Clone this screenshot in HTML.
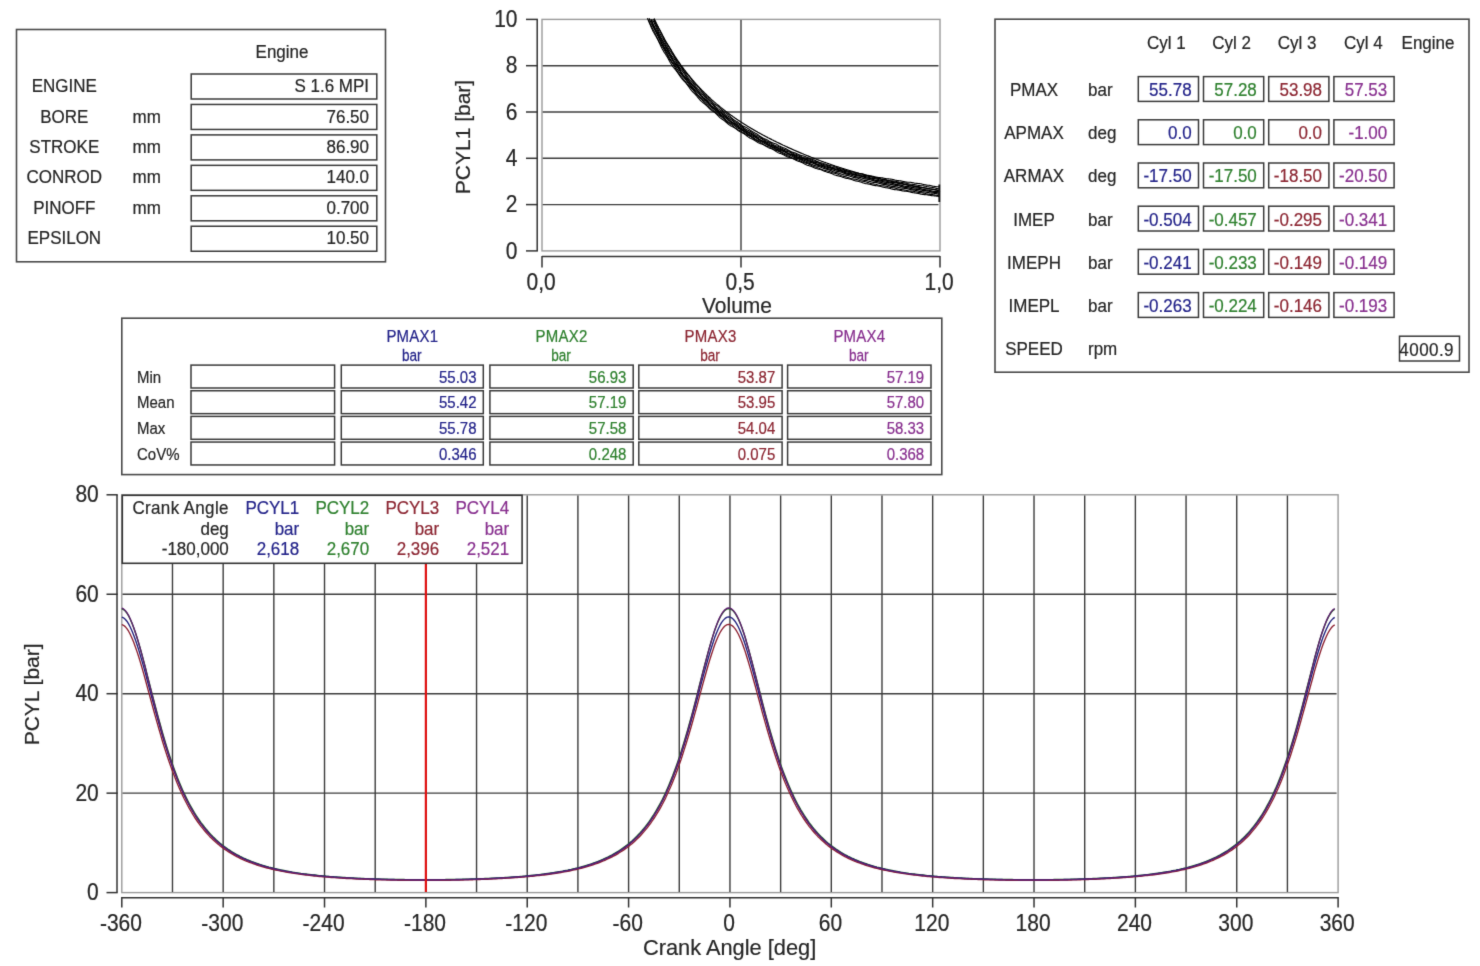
<!DOCTYPE html>
<html><head><meta charset="utf-8"><title>Engine</title>
<style>html,body{margin:0;padding:0;background:#fff;width:1480px;height:966px;overflow:hidden}
svg{display:block} text{font-family:"Liberation Sans", sans-serif;stroke:currentColor;stroke-width:0.2px}</style></head>
<body><svg width="1480" height="966" viewBox="0 0 1480 966" font-family='"Liberation Sans", sans-serif'><defs><filter id="bl" x="0" y="0" width="1480" height="966" filterUnits="userSpaceOnUse" color-interpolation-filters="sRGB"><feConvolveMatrix order="3" kernelMatrix="0.0113 0.0838 0.0113 0.0838 0.6193 0.0838 0.0113 0.0838 0.0113" divisor="1" edgeMode="duplicate"/></filter></defs><g filter="url(#bl)"><rect width="1480" height="966" fill="#fff"/><rect x="16.50" y="29.50" width="369.00" height="232.30" fill="none" stroke="#4a4a4a" stroke-width="1.6"/>
<text transform="translate(282.0,57.5) scale(1,1.09)" font-size="17" text-anchor="middle" fill="#262626" color="#262626">Engine</text>
<rect x="191.20" y="74.00" width="185.60" height="25.00" fill="none" stroke="#3a3a3a" stroke-width="1.5"/>
<text transform="translate(64.3,92.0) scale(1,1.09)" font-size="17" text-anchor="middle" fill="#262626" color="#262626">ENGINE</text>
<text transform="translate(369.0,92.0) scale(1,1.09)" font-size="17" text-anchor="end" fill="#262626" color="#262626">S 1.6 MPI</text>
<rect x="191.20" y="104.45" width="185.60" height="25.00" fill="none" stroke="#3a3a3a" stroke-width="1.5"/>
<text transform="translate(64.3,122.5) scale(1,1.09)" font-size="17" text-anchor="middle" fill="#262626" color="#262626">BORE</text>
<text transform="translate(132.5,122.5) scale(1,1.09)" font-size="17" text-anchor="start" fill="#262626" color="#262626">mm</text>
<text transform="translate(369.0,122.5) scale(1,1.09)" font-size="17" text-anchor="end" fill="#262626" color="#262626">76.50</text>
<rect x="191.20" y="134.90" width="185.60" height="25.00" fill="none" stroke="#3a3a3a" stroke-width="1.5"/>
<text transform="translate(64.3,152.9) scale(1,1.09)" font-size="17" text-anchor="middle" fill="#262626" color="#262626">STROKE</text>
<text transform="translate(132.5,152.9) scale(1,1.09)" font-size="17" text-anchor="start" fill="#262626" color="#262626">mm</text>
<text transform="translate(369.0,152.9) scale(1,1.09)" font-size="17" text-anchor="end" fill="#262626" color="#262626">86.90</text>
<rect x="191.20" y="165.35" width="185.60" height="25.00" fill="none" stroke="#3a3a3a" stroke-width="1.5"/>
<text transform="translate(64.3,183.3) scale(1,1.09)" font-size="17" text-anchor="middle" fill="#262626" color="#262626">CONROD</text>
<text transform="translate(132.5,183.3) scale(1,1.09)" font-size="17" text-anchor="start" fill="#262626" color="#262626">mm</text>
<text transform="translate(369.0,183.3) scale(1,1.09)" font-size="17" text-anchor="end" fill="#262626" color="#262626">140.0</text>
<rect x="191.20" y="195.80" width="185.60" height="25.00" fill="none" stroke="#3a3a3a" stroke-width="1.5"/>
<text transform="translate(64.3,213.8) scale(1,1.09)" font-size="17" text-anchor="middle" fill="#262626" color="#262626">PINOFF</text>
<text transform="translate(132.5,213.8) scale(1,1.09)" font-size="17" text-anchor="start" fill="#262626" color="#262626">mm</text>
<text transform="translate(369.0,213.8) scale(1,1.09)" font-size="17" text-anchor="end" fill="#262626" color="#262626">0.700</text>
<rect x="191.20" y="226.25" width="185.60" height="25.00" fill="none" stroke="#3a3a3a" stroke-width="1.5"/>
<text transform="translate(64.3,244.2) scale(1,1.09)" font-size="17" text-anchor="middle" fill="#262626" color="#262626">EPSILON</text>
<text transform="translate(369.0,244.2) scale(1,1.09)" font-size="17" text-anchor="end" fill="#262626" color="#262626">10.50</text>
<rect x="542.00" y="19.40" width="398.00" height="231.50" fill="none" stroke="#9a9a9a" stroke-width="1.4"/>
<line x1="542.70" y1="204.60" x2="938.50" y2="204.60" stroke="#3c3c3c" stroke-width="1.4"/>
<line x1="542.70" y1="158.30" x2="938.50" y2="158.30" stroke="#3c3c3c" stroke-width="1.4"/>
<line x1="542.70" y1="112.00" x2="938.50" y2="112.00" stroke="#3c3c3c" stroke-width="1.4"/>
<line x1="542.70" y1="65.70" x2="938.50" y2="65.70" stroke="#3c3c3c" stroke-width="1.4"/>
<line x1="741.00" y1="20.10" x2="741.00" y2="250.20" stroke="#3c3c3c" stroke-width="1.4"/>
<line x1="537.20" y1="19.40" x2="537.20" y2="250.90" stroke="#333" stroke-width="1.5"/>
<line x1="526.00" y1="250.90" x2="537.90" y2="250.90" stroke="#333" stroke-width="1.5"/>
<text transform="translate(517.5,258.5) scale(1,1.1)" font-size="21" text-anchor="end" fill="#262626" color="#262626">0</text>
<line x1="526.00" y1="204.60" x2="537.90" y2="204.60" stroke="#333" stroke-width="1.5"/>
<text transform="translate(517.5,212.2) scale(1,1.1)" font-size="21" text-anchor="end" fill="#262626" color="#262626">2</text>
<line x1="526.00" y1="158.30" x2="537.90" y2="158.30" stroke="#333" stroke-width="1.5"/>
<text transform="translate(517.5,165.9) scale(1,1.1)" font-size="21" text-anchor="end" fill="#262626" color="#262626">4</text>
<line x1="526.00" y1="112.00" x2="537.90" y2="112.00" stroke="#333" stroke-width="1.5"/>
<text transform="translate(517.5,119.6) scale(1,1.1)" font-size="21" text-anchor="end" fill="#262626" color="#262626">6</text>
<line x1="526.00" y1="65.70" x2="537.90" y2="65.70" stroke="#333" stroke-width="1.5"/>
<text transform="translate(517.5,73.3) scale(1,1.1)" font-size="21" text-anchor="end" fill="#262626" color="#262626">8</text>
<line x1="526.00" y1="19.40" x2="537.90" y2="19.40" stroke="#333" stroke-width="1.5"/>
<text transform="translate(517.5,27.0) scale(1,1.1)" font-size="21" text-anchor="end" fill="#262626" color="#262626">10</text>
<line x1="542.00" y1="256.60" x2="940.00" y2="256.60" stroke="#333" stroke-width="1.5"/>
<line x1="542.00" y1="255.90" x2="542.00" y2="267.40" stroke="#333" stroke-width="1.5"/>
<text transform="translate(541.2,290.0) scale(1,1.1)" font-size="21" text-anchor="middle" fill="#262626" color="#262626">0,0</text>
<line x1="741.00" y1="255.90" x2="741.00" y2="267.40" stroke="#333" stroke-width="1.5"/>
<text transform="translate(740.2,290.0) scale(1,1.1)" font-size="21" text-anchor="middle" fill="#262626" color="#262626">0,5</text>
<line x1="940.00" y1="255.90" x2="940.00" y2="267.40" stroke="#333" stroke-width="1.5"/>
<text transform="translate(939.2,290.0) scale(1,1.1)" font-size="21" text-anchor="middle" fill="#262626" color="#262626">1,0</text>
<text transform="translate(737.0,312.8) scale(1,1.04)" font-size="21" text-anchor="middle" fill="#262626" color="#262626">Volume</text>
<text x="0.0" y="0.0" font-size="21" text-anchor="middle" fill="#262626" color="#262626" transform="translate(469.9,137) rotate(-90)">PCYL1 [bar]</text>
<polyline points="647.3,18.3 647.9,19.5 648.5,20.8 649.0,22.1 649.6,23.5 650.2,24.8 650.8,26.2 651.3,27.5 651.9,28.8 652.5,30.0 653.0,31.2 653.6,32.3 654.2,33.3 654.7,34.2 655.3,35.2 655.9,36.1 656.4,37.1 657.0,38.1 657.6,39.2 658.2,40.3 658.7,41.5 659.3,42.7 659.9,43.9 660.4,45.2 661.0,46.4 661.6,47.6 662.1,48.7 662.7,49.7 663.3,50.7 663.8,51.7 664.4,52.6 665.0,53.4 665.6,54.3 666.1,55.2 666.7,56.1 667.3,57.0 667.8,58.0 668.4,59.1 669.0,60.1 669.5,61.2 670.1,62.3 670.7,63.3 671.3,64.3 671.8,65.2 672.4,66.0 673.0,66.8 673.5,67.5 674.1,68.2 674.7,68.9 675.2,69.5 675.8,70.2 676.4,70.9 676.9,71.7 677.5,72.4 678.1,73.3 678.7,74.1 679.2,75.0 679.8,75.8 680.4,76.7 680.9,77.5 681.5,78.2 682.1,78.9 682.6,79.6 683.2,80.2 683.8,80.8 684.3,81.3 684.9,81.9 685.5,82.5 686.1,83.2 686.6,83.9 687.2,84.6 687.8,85.4 688.3,86.2 688.9,87.0 689.5,87.8 690.0,88.6 690.6,89.4 691.2,90.1 691.7,90.8 692.3,91.4 692.9,92.0 693.5,92.6 694.0,93.1 694.6,93.7 695.2,94.3 695.7,94.9 696.3,95.5 696.9,96.2 697.4,96.9 698.0,97.6 698.6,98.3 699.2,99.0 699.7,99.7 700.3,100.3 700.9,100.9 701.4,101.4 702.0,101.9 702.6,102.4 703.1,102.8 703.7,103.2 704.3,103.6 704.8,104.0 705.4,104.5 706.0,105.0 706.6,105.5 707.1,106.1 707.7,106.7 708.3,107.3 708.8,107.9 709.4,108.5 710.0,109.0 710.5,109.5 711.1,110.0 711.7,110.4 712.2,110.8 712.8,111.2 713.4,111.6 714.0,112.0 714.5,112.4 715.1,112.8 715.7,113.3 716.2,113.9 716.8,114.4 717.4,115.0 717.9,115.6 718.5,116.2 719.1,116.8 719.6,117.3 720.2,117.9 720.8,118.3 721.4,118.7 721.9,119.1 722.5,119.5 723.1,119.9 723.6,120.3 724.2,120.6 724.8,121.1 725.3,121.5 725.9,122.0 726.5,122.5 727.1,123.0 727.6,123.5 728.2,124.0 728.8,124.5 729.3,124.9 729.9,125.3 730.5,125.7 731.0,126.0 731.6,126.3 732.2,126.6 732.7,126.9 733.3,127.1 733.9,127.4 734.5,127.8 735.0,128.1 735.6,128.5 736.2,128.9 736.7,129.4 737.3,129.8 737.9,130.3 738.4,130.7 739.0,131.1 739.6,131.4 740.1,131.8 740.7,132.1 741.3,132.3 741.9,132.6 742.4,132.9 743.0,133.2 743.6,133.5 744.1,133.8 744.7,134.2 745.3,134.6 745.8,135.1 746.4,135.5 747.0,136.0 747.5,136.4 748.1,136.9 748.7,137.3 749.3,137.6 749.8,138.0 750.4,138.3 751.0,138.5 751.5,138.8 752.1,139.0 752.7,139.3 753.2,139.6 753.8,139.9 754.4,140.3 754.9,140.6 755.5,141.0 756.1,141.4 756.7,141.8 757.2,142.1 757.8,142.5 758.4,142.8 758.9,143.1 759.5,143.3 760.1,143.5 760.6,143.7 761.2,143.9 761.8,144.1 762.4,144.3 762.9,144.5 763.5,144.8 764.1,145.1 764.6,145.4 765.2,145.7 765.8,146.1 766.3,146.4 766.9,146.8 767.5,147.1 768.0,147.4 768.6,147.7 769.2,147.9 769.8,148.2 770.3,148.4 770.9,148.6 771.5,148.8 772.0,149.0 772.6,149.3 773.2,149.6 773.7,149.9 774.3,150.3 774.9,150.6 775.4,151.0 776.0,151.4 776.6,151.7 777.2,152.1 777.7,152.4 778.3,152.7 778.9,152.9 779.4,153.2 780.0,153.4 780.6,153.6 781.1,153.8 781.7,154.0 782.3,154.2 782.8,154.5 783.4,154.8 784.0,155.1 784.6,155.4 785.1,155.7 785.7,156.0 786.3,156.3 786.8,156.6 787.4,156.9 788.0,157.1 788.5,157.3 789.1,157.4 789.7,157.6 790.3,157.8 790.8,157.9 791.4,158.1 792.0,158.3 792.5,158.5 793.1,158.8 793.7,159.0 794.2,159.3 794.8,159.6 795.4,159.9 795.9,160.2 796.5,160.5 797.1,160.8 797.7,161.0 798.2,161.2 798.8,161.4 799.4,161.6 799.9,161.8 800.5,161.9 801.1,162.2 801.6,162.4 802.2,162.6 802.8,162.9 803.3,163.2 803.9,163.5 804.5,163.9 805.1,164.2 805.6,164.5 806.2,164.7 806.8,165.0 807.3,165.2 807.9,165.4 808.5,165.6 809.0,165.8 809.6,165.9 810.2,166.1 810.7,166.3 811.3,166.5 811.9,166.7 812.5,166.9 813.0,167.2 813.6,167.4 814.2,167.7 814.7,168.0 815.3,168.2 815.9,168.4 816.4,168.6 817.0,168.8 817.6,168.9 818.2,169.1 818.7,169.2 819.3,169.3 819.9,169.4 820.4,169.6 821.0,169.8 821.6,169.9 822.1,170.2 822.7,170.4 823.3,170.7 823.8,170.9 824.4,171.2 825.0,171.4 825.6,171.6 826.1,171.8 826.7,172.0 827.3,172.2 827.8,172.4 828.4,172.5 829.0,172.6 829.5,172.8 830.1,173.0 830.7,173.2 831.2,173.4 831.8,173.6 832.4,173.9 833.0,174.1 833.5,174.4 834.1,174.7 834.7,174.9 835.2,175.1 835.8,175.3 836.4,175.5 836.9,175.6 837.5,175.8 838.1,175.9 838.6,176.0 839.2,176.1 839.8,176.3 840.4,176.4 840.9,176.6 841.5,176.8 842.1,177.0 842.6,177.2 843.2,177.4 843.8,177.6 844.3,177.8 844.9,178.0 845.5,178.1 846.1,178.3 846.6,178.4 847.2,178.5 847.8,178.5 848.3,178.6 848.9,178.7 849.5,178.9 850.0,179.0 850.6,179.2 851.2,179.3 851.7,179.5 852.3,179.8 852.9,180.0 853.5,180.2 854.0,180.4 854.6,180.6 855.2,180.7 855.7,180.9 856.3,181.0 856.9,181.1 857.4,181.2 858.0,181.3 858.6,181.4 859.1,181.6 859.7,181.7 860.3,181.9 860.9,182.1 861.4,182.3 862.0,182.5 862.6,182.7 863.1,182.9 863.7,183.1 864.3,183.3 864.8,183.4 865.4,183.6 866.0,183.7 866.5,183.7 867.1,183.8 867.7,183.9 868.3,184.0 868.8,184.1 869.4,184.2 870.0,184.3 870.5,184.5 871.1,184.6 871.7,184.8 872.2,185.0 872.8,185.1 873.4,185.2 874.0,185.4 874.5,185.5 875.1,185.6 875.7,185.6 876.2,185.7 876.8,185.7 877.4,185.8 877.9,185.9 878.5,186.0 879.1,186.1 879.6,186.2 880.2,186.3 880.8,186.5 881.4,186.7 881.9,186.8 882.5,187.0 883.1,187.2 883.6,187.3 884.2,187.4 884.8,187.5 885.3,187.6 885.9,187.7 886.5,187.8 887.0,187.9 887.6,187.9 888.2,188.1 888.8,188.2 889.3,188.3 889.9,188.5 890.5,188.6 891.0,188.8 891.6,189.0 892.2,189.1 892.7,189.3 893.3,189.4 893.9,189.5 894.4,189.6 895.0,189.6 895.6,189.7 896.2,189.7 896.7,189.8 897.3,189.9 897.9,189.9 898.4,190.0 899.0,190.1 899.6,190.2 900.1,190.4 900.7,190.5 901.3,190.6 901.9,190.8 902.4,190.9 903.0,191.0 903.6,191.0 904.1,191.1 904.7,191.1 905.3,191.2 905.8,191.2 906.4,191.3 907.0,191.4 907.5,191.4 908.1,191.5 908.7,191.7 909.3,191.8 909.8,191.9 910.4,192.1 911.0,192.2 911.5,192.4 912.1,192.5 912.7,192.6 913.2,192.7 913.8,192.8 914.4,192.9 914.9,192.9 915.5,193.0 916.1,193.1 916.7,193.2 917.2,193.3 917.8,193.4 918.4,193.5 918.9,193.6 919.5,193.8 920.1,193.9 920.6,194.1 921.2,194.2 921.8,194.3 922.3,194.4 922.9,194.5 923.5,194.5 924.1,194.6 924.6,194.6 925.2,194.6 925.8,194.7 926.3,194.7 926.9,194.8 927.5,194.9 928.0,195.0 928.6,195.1 929.2,195.2 929.8,195.3 930.3,195.4 930.9,195.5 931.5,195.6 932.0,195.7 932.6,195.7 933.2,195.8 933.7,195.8 934.3,195.9 934.9,195.9 935.4,196.0 936.0,196.0 936.6,196.1 937.2,196.2 937.7,196.3 938.3,196.4 938.9,196.6 939.4,196.7 940.0,196.8" fill="none" stroke="#000" stroke-width="1.1" stroke-linejoin="round" />
<polyline points="648.5,19.7 649.0,21.1 649.6,22.5 650.2,23.8 650.8,25.0 651.3,26.1 651.9,27.2 652.5,28.2 653.0,29.3 653.6,30.4 654.2,31.5 654.7,32.6 655.3,33.8 655.9,35.0 656.4,36.3 657.0,37.5 657.6,38.7 658.2,39.9 658.7,41.0 659.3,42.1 659.9,43.0 660.4,43.9 661.0,44.8 661.6,45.6 662.1,46.5 662.7,47.3 663.3,48.2 663.8,49.1 664.4,50.1 665.0,51.1 665.6,52.1 666.1,53.2 666.7,54.3 667.3,55.4 667.8,56.5 668.4,57.5 669.0,58.5 669.5,59.4 670.1,60.2 670.7,61.0 671.3,61.8 671.8,62.6 672.4,63.4 673.0,64.2 673.5,65.1 674.1,66.0 674.7,66.9 675.2,67.9 675.8,68.9 676.4,69.9 676.9,70.9 677.5,71.8 678.1,72.7 678.7,73.5 679.2,74.2 679.8,74.9 680.4,75.6 680.9,76.2 681.5,76.8 682.1,77.5 682.6,78.1 683.2,78.8 683.8,79.5 684.3,80.3 684.9,81.0 685.5,81.8 686.1,82.6 686.6,83.4 687.2,84.2 687.8,84.9 688.3,85.5 688.9,86.1 689.5,86.7 690.0,87.2 690.6,87.7 691.2,88.2 691.7,88.7 692.3,89.3 692.9,89.9 693.5,90.5 694.0,91.2 694.6,91.9 695.2,92.7 695.7,93.4 696.3,94.2 696.9,94.9 697.4,95.6 698.0,96.2 698.6,96.8 699.2,97.3 699.7,97.9 700.3,98.4 700.9,98.9 701.4,99.4 702.0,99.9 702.6,100.5 703.1,101.1 703.7,101.8 704.3,102.5 704.8,103.2 705.4,103.9 706.0,104.5 706.6,105.1 707.1,105.7 707.7,106.3 708.3,106.7 708.8,107.2 709.4,107.6 710.0,108.0 710.5,108.4 711.1,108.8 711.7,109.2 712.2,109.7 712.8,110.2 713.4,110.7 714.0,111.2 714.5,111.8 715.1,112.4 715.7,112.9 716.2,113.4 716.8,113.9 717.4,114.3 717.9,114.7 718.5,115.1 719.1,115.4 719.6,115.7 720.2,116.1 720.8,116.5 721.4,116.9 721.9,117.3 722.5,117.8 723.1,118.3 723.6,118.8 724.2,119.4 724.8,119.9 725.3,120.4 725.9,121.0 726.5,121.4 727.1,121.9 727.6,122.3 728.2,122.7 728.8,123.0 729.3,123.4 729.9,123.7 730.5,124.1 731.0,124.5 731.6,124.9 732.2,125.4 732.7,125.9 733.3,126.4 733.9,126.9 734.5,127.3 735.0,127.8 735.6,128.3 736.2,128.7 736.7,129.0 737.3,129.4 737.9,129.7 738.4,129.9 739.0,130.2 739.6,130.5 740.1,130.7 740.7,131.0 741.3,131.4 741.9,131.7 742.4,132.1 743.0,132.5 743.6,132.9 744.1,133.3 744.7,133.7 745.3,134.1 745.8,134.4 746.4,134.8 747.0,135.0 747.5,135.3 748.1,135.5 748.7,135.8 749.3,136.0 749.8,136.3 750.4,136.6 751.0,136.9 751.5,137.3 752.1,137.7 752.7,138.1 753.2,138.5 753.8,139.0 754.4,139.4 754.9,139.8 755.5,140.1 756.1,140.4 756.7,140.7 757.2,141.0 757.8,141.3 758.4,141.5 758.9,141.8 759.5,142.0 760.1,142.3 760.6,142.7 761.2,143.0 761.8,143.4 762.4,143.8 762.9,144.2 763.5,144.5 764.1,144.9 764.6,145.2 765.2,145.5 765.8,145.8 766.3,146.0 766.9,146.2 767.5,146.4 768.0,146.6 768.6,146.8 769.2,147.0 769.8,147.2 770.3,147.5 770.9,147.8 771.5,148.1 772.0,148.4 772.6,148.7 773.2,149.1 773.7,149.4 774.3,149.7 774.9,149.9 775.4,150.2 776.0,150.4 776.6,150.6 777.2,150.8 777.7,150.9 778.3,151.2 778.9,151.4 779.4,151.6 780.0,151.9 780.6,152.2 781.1,152.6 781.7,152.9 782.3,153.3 782.8,153.6 783.4,154.0 784.0,154.3 784.6,154.6 785.1,154.8 785.7,155.1 786.3,155.3 786.8,155.5 787.4,155.7 788.0,155.9 788.5,156.1 789.1,156.4 789.7,156.6 790.3,156.9 790.8,157.2 791.4,157.6 792.0,157.9 792.5,158.2 793.1,158.5 793.7,158.7 794.2,158.9 794.8,159.1 795.4,159.3 795.9,159.5 796.5,159.6 797.1,159.8 797.7,159.9 798.2,160.1 798.8,160.3 799.4,160.5 799.9,160.8 800.5,161.0 801.1,161.3 801.6,161.6 802.2,161.9 802.8,162.1 803.3,162.3 803.9,162.6 804.5,162.8 805.1,162.9 805.6,163.1 806.2,163.2 806.8,163.4 807.3,163.6 807.9,163.8 808.5,164.0 809.0,164.3 809.6,164.5 810.2,164.8 810.7,165.1 811.3,165.4 811.9,165.7 812.5,166.0 813.0,166.2 813.6,166.5 814.2,166.7 814.7,166.8 815.3,167.0 815.9,167.2 816.4,167.3 817.0,167.5 817.6,167.7 818.2,167.9 818.7,168.1 819.3,168.4 819.9,168.6 820.4,168.9 821.0,169.1 821.6,169.4 822.1,169.6 822.7,169.8 823.3,170.0 823.8,170.1 824.4,170.2 825.0,170.4 825.6,170.5 826.1,170.6 826.7,170.7 827.3,170.9 827.8,171.0 828.4,171.2 829.0,171.4 829.5,171.6 830.1,171.9 830.7,172.1 831.2,172.3 831.8,172.5 832.4,172.7 833.0,172.9 833.5,173.0 834.1,173.2 834.7,173.3 835.2,173.4 835.8,173.6 836.4,173.7 836.9,173.9 837.5,174.1 838.1,174.3 838.6,174.5 839.2,174.8 839.8,175.0 840.4,175.3 840.9,175.5 841.5,175.7 842.1,175.9 842.6,176.1 843.2,176.3 843.8,176.4 844.3,176.5 844.9,176.6 845.5,176.8 846.1,176.9 846.6,177.0 847.2,177.2 847.8,177.4 848.3,177.6 848.9,177.8 849.5,178.0 850.0,178.2 850.6,178.4 851.2,178.6 851.7,178.7 852.3,178.8 852.9,178.9 853.5,179.0 854.0,179.1 854.6,179.2 855.2,179.2 855.7,179.3 856.3,179.5 856.9,179.6 857.4,179.8 858.0,179.9 858.6,180.1 859.1,180.3 859.7,180.5 860.3,180.7 860.9,180.8 861.4,181.0 862.0,181.1 862.6,181.2 863.1,181.3 863.7,181.4 864.3,181.5 864.8,181.6 865.4,181.8 866.0,181.9 866.5,182.1 867.1,182.2 867.7,182.4 868.3,182.6 868.8,182.8 869.4,183.0 870.0,183.2 870.5,183.4 871.1,183.5 871.7,183.7 872.2,183.8 872.8,183.9 873.4,183.9 874.0,184.0 874.5,184.1 875.1,184.2 875.7,184.3 876.2,184.4 876.8,184.6 877.4,184.7 877.9,184.9 878.5,185.1 879.1,185.2 879.6,185.4 880.2,185.5 880.8,185.6 881.4,185.7 881.9,185.7 882.5,185.8 883.1,185.8 883.6,185.9 884.2,185.9 884.8,186.0 885.3,186.1 885.9,186.2 886.5,186.3 887.0,186.5 887.6,186.6 888.2,186.8 888.8,187.0 889.3,187.1 889.9,187.2 890.5,187.4 891.0,187.4 891.6,187.5 892.2,187.6 892.7,187.7 893.3,187.8 893.9,187.8 894.4,187.9 895.0,188.1 895.6,188.2 896.2,188.4 896.7,188.5 897.3,188.7 897.9,188.9 898.4,189.0 899.0,189.2 899.6,189.3 900.1,189.4 900.7,189.5 901.3,189.6 901.9,189.6 902.4,189.7 903.0,189.8 903.6,189.8 904.1,189.9 904.7,190.0 905.3,190.1 905.8,190.2 906.4,190.4 907.0,190.5 907.5,190.6 908.1,190.7 908.7,190.9 909.3,191.0 909.8,191.0 910.4,191.1 911.0,191.1 911.5,191.2 912.1,191.2 912.7,191.3 913.2,191.3 913.8,191.4 914.4,191.5 914.9,191.6 915.5,191.7 916.1,191.8 916.7,192.0 917.2,192.1 917.8,192.2 918.4,192.4 918.9,192.5 919.5,192.6 920.1,192.6 920.6,192.7 921.2,192.8 921.8,192.8 922.3,192.9 922.9,193.0 923.5,193.1 924.1,193.2 924.6,193.3 925.2,193.4 925.8,193.6 926.3,193.7 926.9,193.9 927.5,194.0 928.0,194.1 928.6,194.2 929.2,194.3 929.8,194.4 930.3,194.5 930.9,194.5 931.5,194.5 932.0,194.6 932.6,194.6 933.2,194.7 933.7,194.8 934.3,194.9 934.9,195.0 935.4,195.1 936.0,195.2 936.6,195.3 937.2,195.4 937.7,195.5 938.3,195.6 938.9,195.7 939.4,195.7 940.0,195.7" fill="none" stroke="#000" stroke-width="1.1" stroke-linejoin="round" />
<polyline points="649.0,18.3 649.6,19.7 650.2,21.1 650.8,22.3 651.3,23.5 651.9,24.6 652.5,25.7 653.0,26.7 653.6,27.7 654.2,28.7 654.7,29.7 655.3,30.8 655.9,31.9 656.4,33.0 657.0,34.3 657.6,35.5 658.2,36.8 658.7,38.1 659.3,39.3 659.9,40.5 660.4,41.7 661.0,42.7 661.6,43.8 662.1,44.7 662.7,45.7 663.3,46.6 663.8,47.5 664.4,48.4 665.0,49.4 665.6,50.4 666.1,51.5 666.7,52.6 667.3,53.7 667.8,54.8 668.4,55.9 669.0,57.0 669.5,58.0 670.1,59.0 670.7,59.9 671.3,60.7 671.8,61.5 672.4,62.3 673.0,63.0 673.5,63.7 674.1,64.4 674.7,65.2 675.2,66.0 675.8,66.8 676.4,67.7 676.9,68.5 677.5,69.4 678.1,70.3 678.7,71.2 679.2,72.0 679.8,72.8 680.4,73.5 680.9,74.2 681.5,74.8 682.1,75.4 682.6,76.0 683.2,76.6 683.8,77.2 684.3,77.9 684.9,78.6 685.5,79.4 686.1,80.2 686.6,81.0 687.2,81.8 687.8,82.7 688.3,83.5 688.9,84.3 689.5,85.0 690.0,85.7 690.6,86.4 691.2,87.0 691.7,87.6 692.3,88.1 692.9,88.7 693.5,89.3 694.0,90.0 694.6,90.6 695.2,91.3 695.7,92.1 696.3,92.8 696.9,93.6 697.4,94.3 698.0,95.1 698.6,95.7 699.2,96.3 699.7,96.9 700.3,97.4 700.9,97.9 701.4,98.4 702.0,98.8 702.6,99.2 703.1,99.7 703.7,100.2 704.3,100.7 704.8,101.3 705.4,101.9 706.0,102.5 706.6,103.1 707.1,103.7 707.7,104.3 708.3,104.9 708.8,105.4 709.4,105.8 710.0,106.3 710.5,106.7 711.1,107.1 711.7,107.5 712.2,107.9 712.8,108.3 713.4,108.8 714.0,109.3 714.5,109.8 715.1,110.4 715.7,111.0 716.2,111.6 716.8,112.2 717.4,112.8 717.9,113.4 718.5,113.9 719.1,114.4 719.6,114.8 720.2,115.2 720.8,115.6 721.4,116.0 721.9,116.4 722.5,116.8 723.1,117.3 723.6,117.7 724.2,118.3 724.8,118.8 725.3,119.3 725.9,119.9 726.5,120.4 727.1,120.9 727.6,121.4 728.2,121.8 728.8,122.2 729.3,122.5 729.9,122.8 730.5,123.1 731.0,123.4 731.6,123.7 732.2,124.0 732.7,124.4 733.3,124.7 733.9,125.2 734.5,125.6 735.0,126.0 735.6,126.5 736.2,126.9 736.7,127.4 737.3,127.8 737.9,128.1 738.4,128.4 739.0,128.7 739.6,129.0 740.1,129.3 740.7,129.6 741.3,129.9 741.9,130.2 742.4,130.5 743.0,130.9 743.6,131.4 744.1,131.8 744.7,132.3 745.3,132.7 745.8,133.2 746.4,133.6 747.0,134.0 747.5,134.4 748.1,134.7 748.7,135.1 749.3,135.3 749.8,135.6 750.4,135.9 751.0,136.2 751.5,136.5 752.1,136.8 752.7,137.2 753.2,137.6 753.8,138.0 754.4,138.4 754.9,138.8 755.5,139.2 756.1,139.6 756.7,139.9 757.2,140.2 757.8,140.4 758.4,140.7 758.9,140.9 759.5,141.1 760.1,141.3 760.6,141.5 761.2,141.7 761.8,142.0 762.4,142.3 762.9,142.6 763.5,142.9 764.1,143.3 764.6,143.6 765.2,144.0 765.8,144.3 766.3,144.6 766.9,144.9 767.5,145.1 768.0,145.3 768.6,145.5 769.2,145.7 769.8,146.0 770.3,146.2 770.9,146.5 771.5,146.8 772.0,147.1 772.6,147.4 773.2,147.8 773.7,148.2 774.3,148.5 774.9,148.9 775.4,149.2 776.0,149.5 776.6,149.8 777.2,150.1 777.7,150.3 778.3,150.5 778.9,150.7 779.4,151.0 780.0,151.2 780.6,151.4 781.1,151.7 781.7,152.0 782.3,152.3 782.8,152.6 783.4,153.0 784.0,153.3 784.6,153.6 785.1,153.9 785.7,154.1 786.3,154.3 786.8,154.5 787.4,154.7 788.0,154.8 788.5,155.0 789.1,155.1 789.7,155.3 790.3,155.5 790.8,155.7 791.4,156.0 792.0,156.2 792.5,156.5 793.1,156.8 793.7,157.1 794.2,157.4 794.8,157.6 795.4,157.9 795.9,158.1 796.5,158.3 797.1,158.5 797.7,158.6 798.2,158.8 798.8,159.0 799.4,159.2 799.9,159.4 800.5,159.7 801.1,159.9 801.6,160.2 802.2,160.5 802.8,160.8 803.3,161.2 803.9,161.4 804.5,161.7 805.1,162.0 805.6,162.2 806.2,162.4 806.8,162.6 807.3,162.7 807.9,162.9 808.5,163.1 809.0,163.2 809.6,163.4 810.2,163.7 810.7,163.9 811.3,164.2 811.9,164.4 812.5,164.7 813.0,164.9 813.6,165.2 814.2,165.4 814.7,165.6 815.3,165.7 815.9,165.9 816.4,166.0 817.0,166.1 817.6,166.2 818.2,166.4 818.7,166.5 819.3,166.7 819.9,166.8 820.4,167.1 821.0,167.3 821.6,167.5 822.1,167.8 822.7,168.0 823.3,168.2 823.8,168.4 824.4,168.6 825.0,168.8 825.6,169.0 826.1,169.1 826.7,169.2 827.3,169.4 827.8,169.5 828.4,169.7 829.0,169.9 829.5,170.1 830.1,170.3 830.7,170.6 831.2,170.8 831.8,171.1 832.4,171.4 833.0,171.6 833.5,171.8 834.1,172.0 834.7,172.2 835.2,172.3 835.8,172.4 836.4,172.6 836.9,172.7 837.5,172.8 838.1,173.0 838.6,173.1 839.2,173.3 839.8,173.5 840.4,173.7 840.9,173.9 841.5,174.1 842.1,174.3 842.6,174.5 843.2,174.7 843.8,174.8 844.3,174.9 844.9,175.0 845.5,175.1 846.1,175.2 846.6,175.3 847.2,175.4 847.8,175.5 848.3,175.7 848.9,175.8 849.5,176.0 850.0,176.2 850.6,176.4 851.2,176.6 851.7,176.8 852.3,177.0 852.9,177.2 853.5,177.3 854.0,177.4 854.6,177.6 855.2,177.7 855.7,177.8 856.3,177.9 856.9,178.0 857.4,178.1 858.0,178.3 858.6,178.5 859.1,178.7 859.7,178.9 860.3,179.1 860.9,179.3 861.4,179.5 862.0,179.7 862.6,179.9 863.1,180.0 863.7,180.2 864.3,180.3 864.8,180.4 865.4,180.4 866.0,180.5 866.5,180.6 867.1,180.7 867.7,180.9 868.3,181.0 868.8,181.2 869.4,181.3 870.0,181.5 870.5,181.7 871.1,181.8 871.7,182.0 872.2,182.1 872.8,182.2 873.4,182.3 874.0,182.3 874.5,182.4 875.1,182.5 875.7,182.5 876.2,182.6 876.8,182.7 877.4,182.8 877.9,183.0 878.5,183.1 879.1,183.3 879.6,183.4 880.2,183.6 880.8,183.8 881.4,183.9 881.9,184.1 882.5,184.2 883.1,184.3 883.6,184.4 884.2,184.4 884.8,184.5 885.3,184.6 885.9,184.7 886.5,184.8 887.0,185.0 887.6,185.1 888.2,185.3 888.8,185.5 889.3,185.7 889.9,185.8 890.5,186.0 891.0,186.1 891.6,186.3 892.2,186.4 892.7,186.5 893.3,186.5 893.9,186.6 894.4,186.7 895.0,186.7 895.6,186.8 896.2,186.9 896.7,187.0 897.3,187.1 897.9,187.2 898.4,187.4 899.0,187.5 899.6,187.7 900.1,187.8 900.7,187.9 901.3,188.0 901.9,188.1 902.4,188.1 903.0,188.2 903.6,188.2 904.1,188.3 904.7,188.3 905.3,188.4 905.8,188.5 906.4,188.6 907.0,188.7 907.5,188.8 908.1,189.0 908.7,189.1 909.3,189.3 909.8,189.4 910.4,189.6 911.0,189.7 911.5,189.8 912.1,189.9 912.7,189.9 913.2,190.0 913.8,190.1 914.4,190.1 914.9,190.2 915.5,190.3 916.1,190.5 916.7,190.6 917.2,190.7 917.8,190.9 918.4,191.1 918.9,191.2 919.5,191.3 920.1,191.5 920.6,191.6 921.2,191.6 921.8,191.7 922.3,191.8 922.9,191.8 923.5,191.8 924.1,191.9 924.6,192.0 925.2,192.0 925.8,192.1 926.3,192.2 926.9,192.3 927.5,192.5 928.0,192.6 928.6,192.7 929.2,192.8 929.8,192.9 930.3,193.0 930.9,193.0 931.5,193.1 932.0,193.1 932.6,193.1 933.2,193.2 933.7,193.2 934.3,193.3 934.9,193.4 935.4,193.5 936.0,193.6 936.6,193.7 937.2,193.9 937.7,194.0 938.3,194.1 938.9,194.3 939.4,194.4 940.0,194.5" fill="none" stroke="#000" stroke-width="1.2" stroke-linejoin="round" />
<polyline points="650.8,19.3 651.3,20.8 651.9,22.3 652.5,23.7 653.0,25.1 653.6,26.4 654.2,27.6 654.7,28.8 655.3,29.9 655.9,30.9 656.4,32.0 657.0,33.0 657.6,34.1 658.2,35.2 658.7,36.3 659.3,37.5 659.9,38.8 660.4,40.0 661.0,41.2 661.6,42.4 662.1,43.6 662.7,44.7 663.3,45.7 663.8,46.6 664.4,47.5 665.0,48.3 665.6,49.1 666.1,49.9 666.7,50.7 667.3,51.5 667.8,52.4 668.4,53.3 669.0,54.3 669.5,55.3 670.1,56.3 670.7,57.3 671.3,58.3 671.8,59.2 672.4,60.1 673.0,61.0 673.5,61.8 674.1,62.6 674.7,63.3 675.2,64.0 675.8,64.7 676.4,65.4 676.9,66.2 677.5,67.0 678.1,67.9 678.7,68.8 679.2,69.7 679.8,70.7 680.4,71.6 680.9,72.6 681.5,73.5 682.1,74.3 682.6,75.1 683.2,75.9 683.8,76.6 684.3,77.3 684.9,77.9 685.5,78.5 686.1,79.2 686.6,79.9 687.2,80.6 687.8,81.3 688.3,82.1 688.9,82.9 689.5,83.7 690.0,84.5 690.6,85.3 691.2,86.0 691.7,86.7 692.3,87.3 692.9,87.9 693.5,88.4 694.0,88.9 694.6,89.4 695.2,89.9 695.7,90.4 696.3,90.9 696.9,91.5 697.4,92.1 698.0,92.7 698.6,93.4 699.2,94.1 699.7,94.8 700.3,95.4 700.9,96.1 701.4,96.7 702.0,97.2 702.6,97.8 703.1,98.3 703.7,98.7 704.3,99.2 704.8,99.7 705.4,100.2 706.0,100.7 706.6,101.2 707.1,101.9 707.7,102.5 708.3,103.2 708.8,103.8 709.4,104.5 710.0,105.2 710.5,105.8 711.1,106.4 711.7,106.9 712.2,107.4 712.8,107.9 713.4,108.3 714.0,108.7 714.5,109.1 715.1,109.6 715.7,110.0 716.2,110.5 716.8,111.0 717.4,111.6 717.9,112.1 718.5,112.7 719.1,113.3 719.6,113.8 720.2,114.3 720.8,114.8 721.4,115.2 721.9,115.6 722.5,115.9 723.1,116.2 723.6,116.5 724.2,116.9 724.8,117.2 725.3,117.6 725.9,118.0 726.5,118.4 727.1,118.9 727.6,119.4 728.2,119.9 728.8,120.4 729.3,120.9 729.9,121.3 730.5,121.8 731.0,122.2 731.6,122.5 732.2,122.9 732.7,123.2 733.3,123.5 733.9,123.8 734.5,124.2 735.0,124.6 735.6,125.0 736.2,125.5 736.7,126.0 737.3,126.5 737.9,127.0 738.4,127.5 739.0,128.0 739.6,128.4 740.1,128.8 740.7,129.2 741.3,129.5 741.9,129.9 742.4,130.2 743.0,130.4 743.6,130.7 744.1,131.0 744.7,131.4 745.3,131.7 745.8,132.1 746.4,132.5 747.0,132.9 747.5,133.3 748.1,133.8 748.7,134.1 749.3,134.5 749.8,134.8 750.4,135.1 751.0,135.4 751.5,135.6 752.1,135.8 752.7,136.0 753.2,136.3 753.8,136.5 754.4,136.8 754.9,137.1 755.5,137.4 756.1,137.8 756.7,138.2 757.2,138.6 757.8,139.0 758.4,139.3 758.9,139.7 759.5,140.0 760.1,140.3 760.6,140.6 761.2,140.8 761.8,141.1 762.4,141.3 762.9,141.5 763.5,141.8 764.1,142.1 764.6,142.5 765.2,142.8 765.8,143.2 766.3,143.6 766.9,144.0 767.5,144.4 768.0,144.8 768.6,145.1 769.2,145.4 769.8,145.7 770.3,145.9 770.9,146.1 771.5,146.3 772.0,146.6 772.6,146.8 773.2,147.0 773.7,147.3 774.3,147.5 774.9,147.8 775.4,148.1 776.0,148.5 776.6,148.8 777.2,149.1 777.7,149.4 778.3,149.7 778.9,149.9 779.4,150.1 780.0,150.3 780.6,150.5 781.1,150.6 781.7,150.8 782.3,151.0 782.8,151.1 783.4,151.4 784.0,151.6 784.6,151.9 785.1,152.2 785.7,152.5 786.3,152.8 786.8,153.2 787.4,153.5 788.0,153.7 788.5,154.0 789.1,154.2 789.7,154.4 790.3,154.6 790.8,154.8 791.4,155.0 792.0,155.2 792.5,155.4 793.1,155.7 793.7,155.9 794.2,156.2 794.8,156.6 795.4,156.9 795.9,157.2 796.5,157.5 797.1,157.8 797.7,158.1 798.2,158.3 798.8,158.5 799.4,158.7 799.9,158.8 800.5,159.0 801.1,159.1 801.6,159.3 802.2,159.5 802.8,159.7 803.3,159.9 803.9,160.1 804.5,160.4 805.1,160.7 805.6,160.9 806.2,161.2 806.8,161.4 807.3,161.6 807.9,161.8 808.5,161.9 809.0,162.1 809.6,162.2 810.2,162.3 810.7,162.4 811.3,162.6 811.9,162.7 812.5,162.9 813.0,163.2 813.6,163.4 814.2,163.6 814.7,163.9 815.3,164.2 815.9,164.4 816.4,164.7 817.0,164.9 817.6,165.1 818.2,165.3 818.7,165.4 819.3,165.6 819.9,165.7 820.4,165.9 821.0,166.1 821.6,166.3 822.1,166.5 822.7,166.7 823.3,166.9 823.8,167.2 824.4,167.5 825.0,167.7 825.6,168.0 826.1,168.2 826.7,168.4 827.3,168.6 827.8,168.7 828.4,168.9 829.0,169.0 829.5,169.1 830.1,169.2 830.7,169.3 831.2,169.5 831.8,169.6 832.4,169.8 833.0,170.0 833.5,170.2 834.1,170.4 834.7,170.6 835.2,170.8 835.8,171.0 836.4,171.2 836.9,171.3 837.5,171.4 838.1,171.5 838.6,171.6 839.2,171.7 839.8,171.8 840.4,171.9 840.9,172.1 841.5,172.2 842.1,172.4 842.6,172.6 843.2,172.9 843.8,173.1 844.3,173.3 844.9,173.5 845.5,173.7 846.1,173.9 846.6,174.1 847.2,174.2 847.8,174.3 848.3,174.4 848.9,174.6 849.5,174.7 850.0,174.8 850.6,175.0 851.2,175.2 851.7,175.4 852.3,175.6 852.9,175.8 853.5,176.0 854.0,176.2 854.6,176.4 855.2,176.6 855.7,176.7 856.3,176.9 856.9,177.0 857.4,177.1 858.0,177.1 858.6,177.2 859.1,177.3 859.7,177.4 860.3,177.5 860.9,177.7 861.4,177.8 862.0,178.0 862.6,178.1 863.1,178.3 863.7,178.5 864.3,178.7 864.8,178.8 865.4,178.9 866.0,179.0 866.5,179.1 867.1,179.2 867.7,179.3 868.3,179.3 868.8,179.4 869.4,179.5 870.0,179.6 870.5,179.8 871.1,180.0 871.7,180.1 872.2,180.3 872.8,180.5 873.4,180.7 874.0,180.9 874.5,181.1 875.1,181.2 875.7,181.3 876.2,181.4 876.8,181.5 877.4,181.6 877.9,181.7 878.5,181.8 879.1,181.9 879.6,182.1 880.2,182.2 880.8,182.4 881.4,182.6 881.9,182.7 882.5,182.9 883.1,183.1 883.6,183.2 884.2,183.4 884.8,183.5 885.3,183.6 885.9,183.6 886.5,183.7 887.0,183.8 887.6,183.8 888.2,183.9 888.8,184.0 889.3,184.1 889.9,184.2 890.5,184.3 891.0,184.4 891.6,184.6 892.2,184.7 892.7,184.9 893.3,185.0 893.9,185.1 894.4,185.2 895.0,185.3 895.6,185.4 896.2,185.4 896.7,185.5 897.3,185.6 897.9,185.6 898.4,185.7 899.0,185.8 899.6,186.0 900.1,186.1 900.7,186.3 901.3,186.4 901.9,186.6 902.4,186.8 903.0,186.9 903.6,187.1 904.1,187.2 904.7,187.3 905.3,187.4 905.8,187.4 906.4,187.5 907.0,187.6 907.5,187.7 908.1,187.8 908.7,187.9 909.3,188.0 909.8,188.2 910.4,188.3 911.0,188.5 911.5,188.6 912.1,188.8 912.7,188.9 913.2,189.0 913.8,189.1 914.4,189.1 914.9,189.2 915.5,189.2 916.1,189.3 916.7,189.3 917.2,189.4 917.8,189.4 918.4,189.5 918.9,189.6 919.5,189.7 920.1,189.9 920.6,190.0 921.2,190.1 921.8,190.2 922.3,190.3 922.9,190.4 923.5,190.5 924.1,190.6 924.6,190.6 925.2,190.7 925.8,190.7 926.3,190.8 926.9,190.9 927.5,191.0 928.0,191.1 928.6,191.2 929.2,191.3 929.8,191.5 930.3,191.6 930.9,191.8 931.5,191.9 932.0,192.0 932.6,192.2 933.2,192.2 933.7,192.3 934.3,192.4 934.9,192.5 935.4,192.5 936.0,192.6 936.6,192.6 937.2,192.7 937.7,192.8 938.3,192.9 938.9,193.1 939.4,193.2 940.0,193.3" fill="none" stroke="#000" stroke-width="1.3" stroke-linejoin="round" />
<polyline points="651.3,19.5 651.9,21.0 652.5,22.4 653.0,23.8 653.6,25.1 654.2,26.3 654.7,27.4 655.3,28.5 655.9,29.5 656.4,30.5 657.0,31.5 657.6,32.5 658.2,33.5 658.7,34.5 659.3,35.6 659.9,36.7 660.4,37.9 661.0,39.0 661.6,40.2 662.1,41.3 662.7,42.4 663.3,43.5 663.8,44.5 664.4,45.4 665.0,46.2 665.6,47.1 666.1,47.9 666.7,48.7 667.3,49.5 667.8,50.4 668.4,51.3 669.0,52.3 669.5,53.3 670.1,54.4 670.7,55.5 671.3,56.6 671.8,57.6 672.4,58.6 673.0,59.6 673.5,60.5 674.1,61.4 674.7,62.2 675.2,63.0 675.8,63.7 676.4,64.5 676.9,65.2 677.5,66.0 678.1,66.9 678.7,67.8 679.2,68.7 679.8,69.6 680.4,70.6 680.9,71.5 681.5,72.4 682.1,73.2 682.6,74.0 683.2,74.8 683.8,75.5 684.3,76.1 684.9,76.7 685.5,77.3 686.1,77.8 686.6,78.4 687.2,79.0 687.8,79.7 688.3,80.4 688.9,81.1 689.5,81.9 690.0,82.7 690.6,83.4 691.2,84.2 691.7,84.9 692.3,85.5 692.9,86.2 693.5,86.7 694.0,87.3 694.6,87.8 695.2,88.3 695.7,88.8 696.3,89.4 696.9,89.9 697.4,90.6 698.0,91.2 698.6,91.9 699.2,92.7 699.7,93.4 700.3,94.2 700.9,94.9 701.4,95.6 702.0,96.2 702.6,96.8 703.1,97.4 703.7,97.9 704.3,98.4 704.8,98.9 705.4,99.4 706.0,99.9 706.6,100.5 707.1,101.0 707.7,101.6 708.3,102.3 708.8,102.9 709.4,103.6 710.0,104.2 710.5,104.8 711.1,105.4 711.7,105.9 712.2,106.4 712.8,106.8 713.4,107.2 714.0,107.6 714.5,108.0 715.1,108.4 715.7,108.7 716.2,109.2 716.8,109.6 717.4,110.1 717.9,110.6 718.5,111.2 719.1,111.7 719.6,112.3 720.2,112.8 720.8,113.3 721.4,113.7 721.9,114.1 722.5,114.5 723.1,114.9 723.6,115.2 724.2,115.6 724.8,116.0 725.3,116.4 725.9,116.8 726.5,117.2 727.1,117.7 727.6,118.3 728.2,118.8 728.8,119.4 729.3,119.9 729.9,120.4 730.5,120.9 731.0,121.4 731.6,121.8 732.2,122.2 732.7,122.6 733.3,122.9 733.9,123.2 734.5,123.6 735.0,124.0 735.6,124.3 736.2,124.8 736.7,125.2 737.3,125.7 737.9,126.1 738.4,126.6 739.0,127.1 739.6,127.5 740.1,127.9 740.7,128.3 741.3,128.6 741.9,128.9 742.4,129.2 743.0,129.4 743.6,129.7 744.1,129.9 744.7,130.2 745.3,130.5 745.8,130.8 746.4,131.2 747.0,131.6 747.5,132.0 748.1,132.4 748.7,132.8 749.3,133.2 749.8,133.6 750.4,133.9 751.0,134.2 751.5,134.5 752.1,134.7 752.7,135.0 753.2,135.3 753.8,135.5 754.4,135.8 754.9,136.2 755.5,136.5 756.1,136.9 756.7,137.3 757.2,137.8 757.8,138.2 758.4,138.6 758.9,139.0 759.5,139.4 760.1,139.7 760.6,140.0 761.2,140.3 761.8,140.5 762.4,140.8 762.9,141.0 763.5,141.3 764.1,141.5 764.6,141.8 765.2,142.2 765.8,142.5 766.3,142.8 766.9,143.2 767.5,143.6 768.0,143.9 768.6,144.2 769.2,144.5 769.8,144.8 770.3,145.0 770.9,145.2 771.5,145.4 772.0,145.6 772.6,145.7 773.2,145.9 773.7,146.1 774.3,146.4 774.9,146.6 775.4,146.9 776.0,147.3 776.6,147.6 777.2,147.9 777.7,148.2 778.3,148.5 778.9,148.8 779.4,149.1 780.0,149.3 780.6,149.5 781.1,149.7 781.7,149.9 782.3,150.1 782.8,150.3 783.4,150.5 784.0,150.8 784.6,151.1 785.1,151.4 785.7,151.7 786.3,152.1 786.8,152.4 787.4,152.8 788.0,153.1 788.5,153.3 789.1,153.6 789.7,153.8 790.3,154.0 790.8,154.2 791.4,154.4 792.0,154.6 792.5,154.7 793.1,155.0 793.7,155.2 794.2,155.4 794.8,155.7 795.4,156.0 795.9,156.3 796.5,156.5 797.1,156.8 797.7,157.1 798.2,157.3 798.8,157.5 799.4,157.6 799.9,157.8 800.5,157.9 801.1,158.0 801.6,158.1 802.2,158.3 802.8,158.5 803.3,158.7 803.9,158.9 804.5,159.1 805.1,159.4 805.6,159.6 806.2,159.9 806.8,160.2 807.3,160.4 807.9,160.6 808.5,160.8 809.0,161.0 809.6,161.2 810.2,161.3 810.7,161.5 811.3,161.6 811.9,161.8 812.5,162.0 813.0,162.2 813.6,162.5 814.2,162.7 814.7,163.0 815.3,163.3 815.9,163.6 816.4,163.8 817.0,164.1 817.6,164.3 818.2,164.5 818.7,164.6 819.3,164.8 819.9,164.9 820.4,165.1 821.0,165.2 821.6,165.3 822.1,165.5 822.7,165.7 823.3,165.9 823.8,166.1 824.4,166.3 825.0,166.6 825.6,166.8 826.1,167.0 826.7,167.2 827.3,167.3 827.8,167.5 828.4,167.6 829.0,167.7 829.5,167.8 830.1,167.9 830.7,168.0 831.2,168.1 831.8,168.3 832.4,168.4 833.0,168.6 833.5,168.8 834.1,169.0 834.7,169.3 835.2,169.5 835.8,169.7 836.4,169.9 836.9,170.1 837.5,170.2 838.1,170.4 838.6,170.5 839.2,170.6 839.8,170.7 840.4,170.9 840.9,171.0 841.5,171.2 842.1,171.4 842.6,171.6 843.2,171.8 843.8,172.1 844.3,172.3 844.9,172.5 845.5,172.7 846.1,172.9 846.6,173.1 847.2,173.2 847.8,173.4 848.3,173.5 848.9,173.6 849.5,173.7 850.0,173.8 850.6,173.9 851.2,174.0 851.7,174.2 852.3,174.3 852.9,174.5 853.5,174.7 854.0,174.9 854.6,175.1 855.2,175.2 855.7,175.4 856.3,175.5 856.9,175.6 857.4,175.7 858.0,175.8 858.6,175.8 859.1,175.9 859.7,176.0 860.3,176.1 860.9,176.2 861.4,176.4 862.0,176.5 862.6,176.7 863.1,176.9 863.7,177.1 864.3,177.3 864.8,177.5 865.4,177.6 866.0,177.8 866.5,177.9 867.1,178.0 867.7,178.1 868.3,178.2 868.8,178.3 869.4,178.4 870.0,178.6 870.5,178.7 871.1,178.9 871.7,179.0 872.2,179.2 872.8,179.4 873.4,179.6 874.0,179.8 874.5,180.0 875.1,180.1 875.7,180.3 876.2,180.4 876.8,180.5 877.4,180.5 877.9,180.6 878.5,180.7 879.1,180.8 879.6,180.9 880.2,181.0 880.8,181.1 881.4,181.2 881.9,181.4 882.5,181.5 883.1,181.7 883.6,181.8 884.2,182.0 884.8,182.1 885.3,182.2 885.9,182.3 886.5,182.3 887.0,182.4 887.6,182.4 888.2,182.5 888.8,182.6 889.3,182.7 889.9,182.8 890.5,182.9 891.0,183.1 891.6,183.2 892.2,183.4 892.7,183.6 893.3,183.7 893.9,183.9 894.4,184.0 895.0,184.1 895.6,184.3 896.2,184.3 896.7,184.4 897.3,184.5 897.9,184.6 898.4,184.7 899.0,184.8 899.6,184.9 900.1,185.1 900.7,185.2 901.3,185.4 901.9,185.6 902.4,185.7 903.0,185.9 903.6,186.0 904.1,186.1 904.7,186.2 905.3,186.3 905.8,186.4 906.4,186.4 907.0,186.5 907.5,186.5 908.1,186.6 908.7,186.7 909.3,186.8 909.8,186.9 910.4,187.0 911.0,187.1 911.5,187.3 912.1,187.4 912.7,187.5 913.2,187.6 913.8,187.7 914.4,187.8 914.9,187.9 915.5,187.9 916.1,188.0 916.7,188.0 917.2,188.1 917.8,188.1 918.4,188.2 918.9,188.3 919.5,188.5 920.1,188.6 920.6,188.7 921.2,188.9 921.8,189.1 922.3,189.2 922.9,189.3 923.5,189.4 924.1,189.5 924.6,189.6 925.2,189.7 925.8,189.8 926.3,189.8 926.9,189.9 927.5,190.0 928.0,190.1 928.6,190.2 929.2,190.3 929.8,190.5 930.3,190.6 930.9,190.8 931.5,190.9 932.0,191.0 932.6,191.1 933.2,191.2 933.7,191.3 934.3,191.3 934.9,191.4 935.4,191.4 936.0,191.5 936.6,191.5 937.2,191.6 937.7,191.6 938.3,191.7 938.9,191.8 939.4,191.9 940.0,192.1" fill="none" stroke="#000" stroke-width="1.3" stroke-linejoin="round" />
<polyline points="652.5,19.4 653.0,20.5 653.6,21.6 654.2,22.8 654.7,24.0 655.3,25.2 655.9,26.5 656.4,27.9 657.0,29.2 657.6,30.6 658.2,31.9 658.7,33.2 659.3,34.5 659.9,35.7 660.4,36.8 661.0,37.8 661.6,38.8 662.1,39.7 662.7,40.6 663.3,41.5 663.8,42.5 664.4,43.4 665.0,44.4 665.6,45.5 666.1,46.5 666.7,47.6 667.3,48.7 667.8,49.8 668.4,50.8 669.0,51.8 669.5,52.7 670.1,53.6 670.7,54.4 671.3,55.1 671.8,55.8 672.4,56.5 673.0,57.3 673.5,58.0 674.1,58.8 674.7,59.7 675.2,60.6 675.8,61.5 676.4,62.4 676.9,63.4 677.5,64.4 678.1,65.3 678.7,66.2 679.2,67.0 679.8,67.8 680.4,68.6 680.9,69.3 681.5,70.0 682.1,70.7 682.6,71.4 683.2,72.1 683.8,72.9 684.3,73.7 684.9,74.5 685.5,75.4 686.1,76.3 686.6,77.2 687.2,78.1 687.8,78.9 688.3,79.7 688.9,80.4 689.5,81.1 690.0,81.8 690.6,82.3 691.2,82.9 691.7,83.5 692.3,84.0 692.9,84.6 693.5,85.2 694.0,85.9 694.6,86.6 695.2,87.3 695.7,88.0 696.3,88.7 696.9,89.4 697.4,90.1 698.0,90.7 698.6,91.3 699.2,91.8 699.7,92.3 700.3,92.8 700.9,93.2 701.4,93.7 702.0,94.2 702.6,94.7 703.1,95.2 703.7,95.8 704.3,96.4 704.8,97.1 705.4,97.7 706.0,98.4 706.6,99.1 707.1,99.7 707.7,100.3 708.3,100.9 708.8,101.4 709.4,101.9 710.0,102.4 710.5,102.9 711.1,103.3 711.7,103.8 712.2,104.3 712.8,104.8 713.4,105.4 714.0,106.0 714.5,106.6 715.1,107.3 715.7,107.9 716.2,108.5 716.8,109.1 717.4,109.6 717.9,110.1 718.5,110.6 719.1,111.0 719.6,111.4 720.2,111.7 720.8,112.1 721.4,112.5 721.9,112.9 722.5,113.3 723.1,113.8 723.6,114.2 724.2,114.8 724.8,115.3 725.3,115.8 725.9,116.3 726.5,116.7 727.1,117.2 727.6,117.6 728.2,117.9 728.8,118.3 729.3,118.6 729.9,118.9 730.5,119.2 731.0,119.5 731.6,119.9 732.2,120.3 732.7,120.7 733.3,121.2 733.9,121.7 734.5,122.2 735.0,122.7 735.6,123.2 736.2,123.7 736.7,124.1 737.3,124.5 737.9,124.9 738.4,125.2 739.0,125.6 739.6,125.9 740.1,126.2 740.7,126.6 741.3,126.9 741.9,127.3 742.4,127.8 743.0,128.2 743.6,128.7 744.1,129.2 744.7,129.6 745.3,130.1 745.8,130.5 746.4,130.9 747.0,131.2 747.5,131.5 748.1,131.8 748.7,132.1 749.3,132.3 749.8,132.6 750.4,132.8 751.0,133.1 751.5,133.4 752.1,133.8 752.7,134.1 753.2,134.5 753.8,134.9 754.4,135.3 754.9,135.6 755.5,136.0 756.1,136.3 756.7,136.6 757.2,136.8 757.8,137.1 758.4,137.3 758.9,137.5 759.5,137.7 760.1,138.0 760.6,138.3 761.2,138.6 761.8,138.9 762.4,139.3 762.9,139.7 763.5,140.1 764.1,140.5 764.6,140.9 765.2,141.2 765.8,141.6 766.3,141.9 766.9,142.2 767.5,142.4 768.0,142.6 768.6,142.9 769.2,143.1 769.8,143.4 770.3,143.7 770.9,144.0 771.5,144.3 772.0,144.7 772.6,145.0 773.2,145.4 773.7,145.8 774.3,146.1 774.9,146.4 775.4,146.7 776.0,146.9 776.6,147.1 777.2,147.3 777.7,147.5 778.3,147.7 778.9,147.9 779.4,148.1 780.0,148.3 780.6,148.5 781.1,148.8 781.7,149.1 782.3,149.4 782.8,149.7 783.4,150.0 784.0,150.3 784.6,150.5 785.1,150.8 785.7,151.0 786.3,151.2 786.8,151.3 787.4,151.5 788.0,151.7 788.5,151.8 789.1,152.0 789.7,152.3 790.3,152.5 790.8,152.8 791.4,153.1 792.0,153.5 792.5,153.8 793.1,154.1 793.7,154.4 794.2,154.7 794.8,154.9 795.4,155.2 795.9,155.4 796.5,155.6 797.1,155.7 797.7,155.9 798.2,156.1 798.8,156.3 799.4,156.5 799.9,156.8 800.5,157.1 801.1,157.4 801.6,157.6 802.2,157.9 802.8,158.2 803.3,158.5 803.9,158.7 804.5,158.9 805.1,159.1 805.6,159.2 806.2,159.4 806.8,159.5 807.3,159.6 807.9,159.7 808.5,159.9 809.0,160.1 809.6,160.3 810.2,160.5 810.7,160.7 811.3,161.0 811.9,161.2 812.5,161.5 813.0,161.7 813.6,161.9 814.2,162.1 814.7,162.2 815.3,162.4 815.9,162.5 816.4,162.6 817.0,162.8 817.6,162.9 818.2,163.1 818.7,163.3 819.3,163.5 819.9,163.7 820.4,164.0 821.0,164.3 821.6,164.5 822.1,164.8 822.7,165.1 823.3,165.3 823.8,165.5 824.4,165.7 825.0,165.8 825.6,166.0 826.1,166.1 826.7,166.2 827.3,166.4 827.8,166.5 828.4,166.7 829.0,166.9 829.5,167.2 830.1,167.4 830.7,167.6 831.2,167.9 831.8,168.1 832.4,168.3 833.0,168.4 833.5,168.6 834.1,168.7 834.7,168.8 835.2,168.9 835.8,169.0 836.4,169.1 836.9,169.2 837.5,169.3 838.1,169.5 838.6,169.7 839.2,169.8 839.8,170.0 840.4,170.2 840.9,170.5 841.5,170.6 842.1,170.8 842.6,171.0 843.2,171.1 843.8,171.3 844.3,171.4 844.9,171.5 845.5,171.6 846.1,171.7 846.6,171.8 847.2,172.0 847.8,172.1 848.3,172.3 848.9,172.5 849.5,172.8 850.0,173.0 850.6,173.2 851.2,173.4 851.7,173.6 852.3,173.8 852.9,173.9 853.5,174.1 854.0,174.2 854.6,174.3 855.2,174.4 855.7,174.5 856.3,174.6 856.9,174.7 857.4,174.9 858.0,175.0 858.6,175.2 859.1,175.4 859.7,175.6 860.3,175.8 860.9,175.9 861.4,176.1 862.0,176.2 862.6,176.3 863.1,176.4 863.7,176.5 864.3,176.5 864.8,176.6 865.4,176.7 866.0,176.7 866.5,176.8 867.1,177.0 867.7,177.1 868.3,177.2 868.8,177.4 869.4,177.6 870.0,177.7 870.5,177.9 871.1,178.0 871.7,178.2 872.2,178.3 872.8,178.4 873.4,178.5 874.0,178.5 874.5,178.6 875.1,178.7 875.7,178.8 876.2,178.9 876.8,179.1 877.4,179.2 877.9,179.4 878.5,179.6 879.1,179.8 879.6,180.0 880.2,180.1 880.8,180.3 881.4,180.4 881.9,180.5 882.5,180.6 883.1,180.7 883.6,180.8 884.2,180.9 884.8,180.9 885.3,181.0 885.9,181.1 886.5,181.2 887.0,181.4 887.6,181.5 888.2,181.7 888.8,181.8 889.3,182.0 889.9,182.1 890.5,182.2 891.0,182.3 891.6,182.4 892.2,182.4 892.7,182.5 893.3,182.5 893.9,182.6 894.4,182.6 895.0,182.7 895.6,182.8 896.2,182.9 896.7,183.0 897.3,183.1 897.9,183.3 898.4,183.4 899.0,183.6 899.6,183.7 900.1,183.8 900.7,183.9 901.3,184.0 901.9,184.1 902.4,184.2 903.0,184.2 903.6,184.3 904.1,184.4 904.7,184.5 905.3,184.6 905.8,184.7 906.4,184.9 907.0,185.0 907.5,185.2 908.1,185.3 908.7,185.5 909.3,185.6 909.8,185.8 910.4,185.9 911.0,186.0 911.5,186.0 912.1,186.1 912.7,186.2 913.2,186.2 913.8,186.3 914.4,186.4 914.9,186.4 915.5,186.5 916.1,186.7 916.7,186.8 917.2,186.9 917.8,187.1 918.4,187.2 918.9,187.3 919.5,187.4 920.1,187.5 920.6,187.5 921.2,187.6 921.8,187.6 922.3,187.6 922.9,187.7 923.5,187.7 924.1,187.8 924.6,187.9 925.2,188.0 925.8,188.1 926.3,188.2 926.9,188.4 927.5,188.5 928.0,188.6 928.6,188.7 929.2,188.8 929.8,188.9 930.3,189.0 930.9,189.1 931.5,189.1 932.0,189.2 932.6,189.3 933.2,189.4 933.7,189.4 934.3,189.6 934.9,189.7 935.4,189.8 936.0,190.0 936.6,190.1 937.2,190.3 937.7,190.4 938.3,190.5 938.9,190.6 939.4,190.7 940.0,190.8" fill="none" stroke="#000" stroke-width="1.2" stroke-linejoin="round" />
<polyline points="653.6,19.1 654.2,20.3 654.7,21.6 655.3,22.9 655.9,24.3 656.4,25.7 657.0,27.1 657.6,28.5 658.2,29.8 658.7,31.0 659.3,32.2 659.9,33.3 660.4,34.4 661.0,35.4 661.6,36.3 662.1,37.3 662.7,38.2 663.3,39.1 663.8,40.1 664.4,41.1 665.0,42.2 665.6,43.3 666.1,44.4 666.7,45.5 667.3,46.6 667.8,47.6 668.4,48.6 669.0,49.6 669.5,50.4 670.1,51.2 670.7,52.0 671.3,52.7 671.8,53.5 672.4,54.2 673.0,55.0 673.5,55.8 674.1,56.7 674.7,57.6 675.2,58.6 675.8,59.6 676.4,60.5 676.9,61.5 677.5,62.5 678.1,63.4 678.7,64.2 679.2,65.0 679.8,65.8 680.4,66.5 680.9,67.2 681.5,67.9 682.1,68.7 682.6,69.4 683.2,70.2 683.8,71.0 684.3,71.9 684.9,72.8 685.5,73.7 686.1,74.6 686.6,75.5 687.2,76.3 687.8,77.1 688.3,77.9 688.9,78.6 689.5,79.2 690.0,79.8 690.6,80.4 691.2,80.9 691.7,81.5 692.3,82.1 692.9,82.7 693.5,83.4 694.0,84.1 694.6,84.8 695.2,85.6 695.7,86.3 696.3,87.0 696.9,87.7 697.4,88.3 698.0,88.9 698.6,89.4 699.2,89.9 699.7,90.4 700.3,90.9 700.9,91.3 701.4,91.8 702.0,92.4 702.6,92.9 703.1,93.5 703.7,94.2 704.3,94.8 704.8,95.5 705.4,96.2 706.0,96.9 706.6,97.5 707.1,98.2 707.7,98.7 708.3,99.3 708.8,99.8 709.4,100.3 710.0,100.7 710.5,101.2 711.1,101.7 711.7,102.2 712.2,102.8 712.8,103.3 713.4,104.0 714.0,104.6 714.5,105.2 715.1,105.9 715.7,106.5 716.2,107.1 716.8,107.6 717.4,108.1 717.9,108.6 718.5,109.0 719.1,109.4 719.6,109.7 720.2,110.1 720.8,110.5 721.4,110.9 721.9,111.3 722.5,111.8 723.1,112.3 723.6,112.8 724.2,113.3 724.8,113.8 725.3,114.3 725.9,114.8 726.5,115.2 727.1,115.6 727.6,116.0 728.2,116.3 728.8,116.7 729.3,117.0 729.9,117.3 730.5,117.7 731.0,118.0 731.6,118.4 732.2,118.9 732.7,119.4 733.3,119.9 733.9,120.4 734.5,120.9 735.0,121.4 735.6,121.9 736.2,122.3 736.7,122.8 737.3,123.1 737.9,123.5 738.4,123.8 739.0,124.2 739.6,124.5 740.1,124.8 740.7,125.2 741.3,125.6 741.9,126.1 742.4,126.5 743.0,127.0 743.6,127.5 744.1,128.0 744.7,128.4 745.3,128.8 745.8,129.2 746.4,129.5 747.0,129.9 747.5,130.1 748.1,130.4 748.7,130.6 749.3,130.9 749.8,131.2 750.4,131.5 751.0,131.8 751.5,132.1 752.1,132.5 752.7,132.9 753.2,133.3 753.8,133.7 754.4,134.0 754.9,134.4 755.5,134.7 756.1,135.0 756.7,135.2 757.2,135.5 757.8,135.7 758.4,135.9 758.9,136.2 759.5,136.4 760.1,136.7 760.6,137.1 761.2,137.4 761.8,137.8 762.4,138.2 762.9,138.6 763.5,139.0 764.1,139.4 764.6,139.8 765.2,140.1 765.8,140.4 766.3,140.7 766.9,140.9 767.5,141.2 768.0,141.4 768.6,141.7 769.2,141.9 769.8,142.2 770.3,142.6 770.9,142.9 771.5,143.3 772.0,143.6 772.6,144.0 773.2,144.4 773.7,144.7 774.3,145.0 774.9,145.3 775.4,145.5 776.0,145.7 776.6,145.9 777.2,146.1 777.7,146.3 778.3,146.4 778.9,146.7 779.4,146.9 780.0,147.1 780.6,147.4 781.1,147.7 781.7,148.0 782.3,148.3 782.8,148.6 783.4,148.9 784.0,149.2 784.6,149.4 785.1,149.6 785.7,149.8 786.3,150.0 786.8,150.2 787.4,150.3 788.0,150.5 788.5,150.7 789.1,151.0 789.7,151.2 790.3,151.5 790.8,151.9 791.4,152.2 792.0,152.5 792.5,152.8 793.1,153.1 793.7,153.4 794.2,153.7 794.8,153.9 795.4,154.1 795.9,154.3 796.5,154.5 797.1,154.7 797.7,154.9 798.2,155.1 798.8,155.3 799.4,155.6 799.9,155.8 800.5,156.1 801.1,156.4 801.6,156.7 802.2,157.0 802.8,157.2 803.3,157.5 803.9,157.7 804.5,157.8 805.1,158.0 805.6,158.1 806.2,158.2 806.8,158.4 807.3,158.5 807.9,158.7 808.5,158.9 809.0,159.1 809.6,159.3 810.2,159.5 810.7,159.8 811.3,160.0 811.9,160.3 812.5,160.5 813.0,160.7 813.6,160.9 814.2,161.0 814.7,161.2 815.3,161.3 815.9,161.5 816.4,161.6 817.0,161.8 817.6,161.9 818.2,162.1 818.7,162.4 819.3,162.6 819.9,162.9 820.4,163.2 821.0,163.4 821.6,163.7 822.1,163.9 822.7,164.2 823.3,164.4 823.8,164.5 824.4,164.7 825.0,164.8 825.6,165.0 826.1,165.1 826.7,165.3 827.3,165.5 827.8,165.6 828.4,165.8 829.0,166.1 829.5,166.3 830.1,166.5 830.7,166.8 831.2,167.0 831.8,167.2 832.4,167.4 833.0,167.5 833.5,167.6 834.1,167.7 834.7,167.8 835.2,167.9 835.8,168.0 836.4,168.1 836.9,168.3 837.5,168.4 838.1,168.6 838.6,168.8 839.2,169.0 839.8,169.2 840.4,169.4 840.9,169.6 841.5,169.8 842.1,170.0 842.6,170.1 843.2,170.2 843.8,170.3 844.3,170.4 844.9,170.5 845.5,170.7 846.1,170.8 846.6,170.9 847.2,171.1 847.8,171.3 848.3,171.5 848.9,171.7 849.5,172.0 850.0,172.2 850.6,172.4 851.2,172.6 851.7,172.8 852.3,172.9 852.9,173.0 853.5,173.1 854.0,173.2 854.6,173.3 855.2,173.4 855.7,173.5 856.3,173.7 856.9,173.8 857.4,174.0 858.0,174.1 858.6,174.3 859.1,174.5 859.7,174.7 860.3,174.8 860.9,175.0 861.4,175.1 862.0,175.2 862.6,175.2 863.1,175.3 863.7,175.4 864.3,175.4 864.8,175.5 865.4,175.6 866.0,175.6 866.5,175.8 867.1,175.9 867.7,176.0 868.3,176.2 868.8,176.4 869.4,176.5 870.0,176.7 870.5,176.8 871.1,176.9 871.7,177.0 872.2,177.1 872.8,177.2 873.4,177.3 874.0,177.3 874.5,177.4 875.1,177.5 875.7,177.6 876.2,177.8 876.8,177.9 877.4,178.1 877.9,178.3 878.5,178.5 879.1,178.6 879.6,178.8 880.2,178.9 880.8,179.1 881.4,179.2 881.9,179.2 882.5,179.3 883.1,179.4 883.6,179.4 884.2,179.5 884.8,179.6 885.3,179.7 885.9,179.8 886.5,179.9 887.0,180.1 887.6,180.2 888.2,180.3 888.8,180.5 889.3,180.6 889.9,180.7 890.5,180.8 891.0,180.8 891.6,180.9 892.2,180.9 892.7,180.9 893.3,181.0 893.9,181.0 894.4,181.1 895.0,181.2 895.6,181.3 896.2,181.4 896.7,181.5 897.3,181.7 897.9,181.8 898.4,181.9 899.0,182.1 899.6,182.2 900.1,182.3 900.7,182.3 901.3,182.4 901.9,182.5 902.4,182.5 903.0,182.6 903.6,182.7 904.1,182.8 904.7,182.9 905.3,183.0 905.8,183.1 906.4,183.3 907.0,183.4 907.5,183.6 908.1,183.8 908.7,183.9 909.3,184.0 909.8,184.1 910.4,184.2 911.0,184.2 911.5,184.3 912.1,184.3 912.7,184.4 913.2,184.5 913.8,184.5 914.4,184.6 914.9,184.7 915.5,184.8 916.1,184.9 916.7,185.1 917.2,185.2 917.8,185.3 918.4,185.4 918.9,185.5 919.5,185.6 920.1,185.6 920.6,185.7 921.2,185.7 921.8,185.7 922.3,185.8 922.9,185.8 923.5,185.9 924.1,186.0 924.6,186.1 925.2,186.2 925.8,186.3 926.3,186.4 926.9,186.6 927.5,186.7 928.0,186.8 928.6,186.9 929.2,187.0 929.8,187.1 930.3,187.2 930.9,187.2 931.5,187.3 932.0,187.4 932.6,187.4 933.2,187.5 933.7,187.7 934.3,187.8 934.9,187.9 935.4,188.1 936.0,188.2 936.6,188.4 937.2,188.5 937.7,188.6 938.3,188.7 938.9,188.8 939.4,188.9 940.0,189.0" fill="none" stroke="#000" stroke-width="1.1" stroke-linejoin="round" />
<polyline points="654.2,19.3 654.7,20.7 655.3,22.0 655.9,23.2 656.4,24.3 657.0,25.4 657.6,26.4 658.2,27.4 658.7,28.3 659.3,29.3 659.9,30.2 660.4,31.3 661.0,32.3 661.6,33.4 662.1,34.6 662.7,35.7 663.3,36.9 663.8,38.1 664.4,39.2 665.0,40.2 665.6,41.3 666.1,42.2 666.7,43.1 667.3,44.0 667.8,44.8 668.4,45.6 669.0,46.5 669.5,47.4 670.1,48.3 670.7,49.3 671.3,50.3 671.8,51.4 672.4,52.5 673.0,53.6 673.5,54.6 674.1,55.7 674.7,56.7 675.2,57.6 675.8,58.5 676.4,59.3 676.9,60.1 677.5,60.9 678.1,61.6 678.7,62.4 679.2,63.1 679.8,64.0 680.4,64.8 680.9,65.7 681.5,66.6 682.1,67.5 682.6,68.4 683.2,69.3 683.8,70.2 684.3,71.0 684.9,71.7 685.5,72.4 686.1,73.0 686.6,73.6 687.2,74.2 687.8,74.8 688.3,75.4 688.9,76.0 689.5,76.6 690.0,77.3 690.6,78.0 691.2,78.8 691.7,79.6 692.3,80.3 692.9,81.1 693.5,81.8 694.0,82.5 694.6,83.2 695.2,83.8 695.7,84.3 696.3,84.9 696.9,85.4 697.4,86.0 698.0,86.5 698.6,87.1 699.2,87.7 699.7,88.4 700.3,89.1 700.9,89.9 701.4,90.6 702.0,91.4 702.6,92.1 703.1,92.8 703.7,93.5 704.3,94.1 704.8,94.7 705.4,95.2 706.0,95.7 706.6,96.2 707.1,96.7 707.7,97.2 708.3,97.7 708.8,98.3 709.4,98.9 710.0,99.5 710.5,100.1 711.1,100.7 711.7,101.4 712.2,102.0 712.8,102.5 713.4,103.1 714.0,103.6 714.5,104.0 715.1,104.4 715.7,104.8 716.2,105.1 716.8,105.5 717.4,105.9 717.9,106.3 718.5,106.8 719.1,107.3 719.6,107.8 720.2,108.3 720.8,108.9 721.4,109.4 721.9,110.0 722.5,110.5 723.1,111.0 723.6,111.4 724.2,111.9 724.8,112.2 725.3,112.6 725.9,113.0 726.5,113.4 727.1,113.8 727.6,114.2 728.2,114.7 728.8,115.2 729.3,115.7 729.9,116.2 730.5,116.8 731.0,117.4 731.6,117.9 732.2,118.4 732.7,118.9 733.3,119.3 733.9,119.7 734.5,120.1 735.0,120.4 735.6,120.7 736.2,121.1 736.7,121.4 737.3,121.8 737.9,122.2 738.4,122.6 739.0,123.1 739.6,123.5 740.1,124.0 740.7,124.4 741.3,124.9 741.9,125.3 742.4,125.7 743.0,126.0 743.6,126.3 744.1,126.6 744.7,126.8 745.3,127.1 745.8,127.3 746.4,127.6 747.0,127.9 747.5,128.2 748.1,128.6 748.7,129.0 749.3,129.4 749.8,129.9 750.4,130.3 751.0,130.7 751.5,131.1 752.1,131.4 752.7,131.8 753.2,132.1 753.8,132.3 754.4,132.6 754.9,132.9 755.5,133.2 756.1,133.5 756.7,133.8 757.2,134.2 757.8,134.6 758.4,135.0 758.9,135.4 759.5,135.8 760.1,136.3 760.6,136.7 761.2,137.0 761.8,137.4 762.4,137.7 762.9,138.0 763.5,138.2 764.1,138.5 764.6,138.7 765.2,138.9 765.8,139.2 766.3,139.5 766.9,139.8 767.5,140.1 768.0,140.4 768.6,140.8 769.2,141.2 769.8,141.5 770.3,141.8 770.9,142.1 771.5,142.4 772.0,142.6 772.6,142.8 773.2,143.0 773.7,143.2 774.3,143.4 774.9,143.6 775.4,143.8 776.0,144.0 776.6,144.3 777.2,144.6 777.7,144.9 778.3,145.2 778.9,145.6 779.4,145.9 780.0,146.2 780.6,146.5 781.1,146.8 781.7,147.1 782.3,147.3 782.8,147.5 783.4,147.7 784.0,147.9 784.6,148.1 785.1,148.4 785.7,148.6 786.3,148.9 786.8,149.3 787.4,149.6 788.0,149.9 788.5,150.3 789.1,150.6 789.7,150.9 790.3,151.2 790.8,151.5 791.4,151.7 792.0,151.9 792.5,152.1 793.1,152.2 793.7,152.4 794.2,152.6 794.8,152.8 795.4,153.0 795.9,153.2 796.5,153.5 797.1,153.8 797.7,154.0 798.2,154.3 798.8,154.6 799.4,154.8 799.9,155.1 800.5,155.3 801.1,155.4 801.6,155.6 802.2,155.7 802.8,155.8 803.3,156.0 803.9,156.1 804.5,156.3 805.1,156.5 805.6,156.7 806.2,157.0 806.8,157.2 807.3,157.5 807.9,157.8 808.5,158.1 809.0,158.3 809.6,158.6 810.2,158.8 810.7,159.0 811.3,159.2 811.9,159.3 812.5,159.5 813.0,159.7 813.6,159.8 814.2,160.0 814.7,160.2 815.3,160.5 815.9,160.8 816.4,161.0 817.0,161.3 817.6,161.6 818.2,161.9 818.7,162.1 819.3,162.3 819.9,162.5 820.4,162.7 821.0,162.8 821.6,162.9 822.1,163.1 822.7,163.2 823.3,163.3 823.8,163.5 824.4,163.7 825.0,163.9 825.6,164.1 826.1,164.3 826.7,164.5 827.3,164.7 827.8,164.9 828.4,165.1 829.0,165.3 829.5,165.5 830.1,165.6 830.7,165.7 831.2,165.8 831.8,165.9 832.4,166.0 833.0,166.1 833.5,166.3 834.1,166.5 834.7,166.7 835.2,166.9 835.8,167.1 836.4,167.3 836.9,167.6 837.5,167.8 838.1,168.0 838.6,168.2 839.2,168.4 839.8,168.5 840.4,168.7 840.9,168.8 841.5,168.9 842.1,169.1 842.6,169.2 843.2,169.4 843.8,169.5 844.3,169.7 844.9,170.0 845.5,170.2 846.1,170.4 846.6,170.6 847.2,170.8 847.8,171.0 848.3,171.2 848.9,171.3 849.5,171.4 850.0,171.5 850.6,171.6 851.2,171.7 851.7,171.7 852.3,171.8 852.9,171.9 853.5,172.1 854.0,172.2 854.6,172.4 855.2,172.5 855.7,172.7 856.3,172.9 856.9,173.0 857.4,173.2 858.0,173.3 858.6,173.4 859.1,173.5 859.7,173.5 860.3,173.6 860.9,173.6 861.4,173.7 862.0,173.8 862.6,173.9 863.1,174.0 863.7,174.2 864.3,174.4 864.8,174.5 865.4,174.7 866.0,174.9 866.5,175.1 867.1,175.2 867.7,175.3 868.3,175.4 868.8,175.5 869.4,175.6 870.0,175.7 870.5,175.8 871.1,175.9 871.7,176.0 872.2,176.1 872.8,176.2 873.4,176.4 874.0,176.5 874.5,176.7 875.1,176.8 875.7,177.0 876.2,177.1 876.8,177.3 877.4,177.4 877.9,177.4 878.5,177.5 879.1,177.5 879.6,177.6 880.2,177.6 880.8,177.7 881.4,177.7 881.9,177.8 882.5,177.9 883.1,178.0 883.6,178.1 884.2,178.2 884.8,178.4 885.3,178.5 885.9,178.6 886.5,178.7 887.0,178.8 887.6,178.8 888.2,178.9 888.8,178.9 889.3,179.0 889.9,179.0 890.5,179.1 891.0,179.1 891.6,179.2 892.2,179.3 892.7,179.5 893.3,179.6 893.9,179.8 894.4,179.9 895.0,180.1 895.6,180.2 896.2,180.3 896.7,180.4 897.3,180.5 897.9,180.6 898.4,180.6 899.0,180.7 899.6,180.7 900.1,180.8 900.7,180.9 901.3,181.0 901.9,181.1 902.4,181.2 903.0,181.4 903.6,181.5 904.1,181.6 904.7,181.8 905.3,181.9 905.8,182.0 906.4,182.1 907.0,182.1 907.5,182.2 908.1,182.2 908.7,182.2 909.3,182.2 909.8,182.3 910.4,182.3 911.0,182.4 911.5,182.5 912.1,182.6 912.7,182.7 913.2,182.8 913.8,182.9 914.4,183.1 914.9,183.2 915.5,183.2 916.1,183.3 916.7,183.4 917.2,183.4 917.8,183.5 918.4,183.5 918.9,183.5 919.5,183.6 920.1,183.7 920.6,183.8 921.2,183.9 921.8,184.0 922.3,184.2 922.9,184.3 923.5,184.5 924.1,184.6 924.6,184.7 925.2,184.8 925.8,184.9 926.3,185.0 926.9,185.1 927.5,185.2 928.0,185.2 928.6,185.3 929.2,185.3 929.8,185.4 930.3,185.5 930.9,185.7 931.5,185.8 932.0,185.9 932.6,186.1 933.2,186.2 933.7,186.3 934.3,186.4 934.9,186.5 935.4,186.6 936.0,186.6 936.6,186.7 937.2,186.7 937.7,186.8 938.3,186.8 938.9,186.9 939.4,186.9 940.0,187.0" fill="none" stroke="#000" stroke-width="1.1" stroke-linejoin="round" />
<polyline points="654.2,18.6 654.7,19.8 655.3,21.0 655.9,22.3 656.4,23.4 657.0,24.6 657.6,25.8 658.2,26.9 658.7,28.1 659.3,29.2 659.9,30.3 660.4,31.5 661.0,32.6 661.6,33.6 662.1,34.7 662.7,35.8 663.3,36.8 663.8,37.9 664.4,38.9 665.0,40.0 665.6,41.0 666.1,42.0 666.7,43.0 667.3,44.0 667.8,44.9 668.4,45.9 669.0,46.9 669.5,47.8 670.1,48.8 670.7,49.7 671.3,50.6 671.8,51.5 672.4,52.4 673.0,53.3 673.5,54.2 674.1,55.1 674.7,56.0 675.2,56.9 675.8,57.7 676.4,58.6 676.9,59.4 677.5,60.2 678.1,61.1 678.7,61.9 679.2,62.7 679.8,63.5 680.4,64.3 680.9,65.1 681.5,65.9 682.1,66.7 682.6,67.5 683.2,68.2 683.8,69.0 684.3,69.7 684.9,70.5 685.5,71.2 686.1,72.0 686.6,72.7 687.2,73.4 687.8,74.1 688.3,74.8 688.9,75.5 689.5,76.2 690.0,76.9 690.6,77.6 691.2,78.3 691.7,79.0 692.3,79.7 692.9,80.3 693.5,81.0 694.0,81.6 694.6,82.3 695.2,82.9 695.7,83.6 696.3,84.2 696.9,84.8 697.4,85.5 698.0,86.1 698.6,86.7 699.2,87.3 699.7,87.9 700.3,88.5 700.9,89.1 701.4,89.7 702.0,90.3 702.6,90.9 703.1,91.4 703.7,92.0 704.3,92.6 704.8,93.1 705.4,93.7 706.0,94.3 706.6,94.8 707.1,95.4 707.7,95.9 708.3,96.4 708.8,97.0 709.4,97.5 710.0,98.0 710.5,98.6 711.1,99.1 711.7,99.6 712.2,100.1 712.8,100.6 713.4,101.1 714.0,101.6 714.5,102.1 715.1,102.6 715.7,103.1 716.2,103.6 716.8,104.1 717.4,104.6 717.9,105.0 718.5,105.5 719.1,106.0 719.6,106.5 720.2,106.9 720.8,107.4 721.4,107.8 721.9,108.3 722.5,108.8 723.1,109.2 723.6,109.7 724.2,110.1 724.8,110.5 725.3,111.0 725.9,111.4 726.5,111.8 727.1,112.3 727.6,112.7 728.2,113.1 728.8,113.5 729.3,114.0 729.9,114.4 730.5,114.8 731.0,115.2 731.6,115.6 732.2,116.0 732.7,116.4 733.3,116.8 733.9,117.2 734.5,117.6 735.0,118.0 735.6,118.4 736.2,118.8 736.7,119.2 737.3,119.6 737.9,120.0 738.4,120.3 739.0,120.7 739.6,121.1 740.1,121.5 740.7,121.8 741.3,122.2 741.9,122.6 742.4,122.9 743.0,123.3 743.6,123.7 744.1,124.0 744.7,124.4 745.3,124.7 745.8,125.1 746.4,125.5 747.0,125.8 747.5,126.2 748.1,126.5 748.7,126.8 749.3,127.2 749.8,127.5 750.4,127.9 751.0,128.2 751.5,128.6 752.1,128.9 752.7,129.2 753.2,129.6 753.8,129.9 754.4,130.2 754.9,130.5 755.5,130.9 756.1,131.2 756.7,131.5 757.2,131.8 757.8,132.2 758.4,132.5 758.9,132.8 759.5,133.1 760.1,133.4 760.6,133.7 761.2,134.0 761.8,134.4 762.4,134.7 762.9,135.0 763.5,135.3 764.1,135.6 764.6,135.9 765.2,136.2 765.8,136.5 766.3,136.8 766.9,137.1 767.5,137.4 768.0,137.7 768.6,138.0 769.2,138.3 769.8,138.6 770.3,138.9 770.9,139.1 771.5,139.4 772.0,139.7 772.6,140.0 773.2,140.3 773.7,140.6 774.3,140.9 774.9,141.1 775.4,141.4 776.0,141.7 776.6,142.0 777.2,142.3 777.7,142.5 778.3,142.8 778.9,143.1 779.4,143.4 780.0,143.6 780.6,143.9 781.1,144.2 781.7,144.4 782.3,144.7 782.8,145.0 783.4,145.3 784.0,145.5 784.6,145.8 785.1,146.1 785.7,146.3 786.3,146.6 786.8,146.8 787.4,147.1 788.0,147.4 788.5,147.6 789.1,147.9 789.7,148.1 790.3,148.4 790.8,148.6 791.4,148.9 792.0,149.2 792.5,149.4 793.1,149.7 793.7,149.9 794.2,150.2 794.8,150.4 795.4,150.7 795.9,150.9 796.5,151.1 797.1,151.4 797.7,151.6 798.2,151.9 798.8,152.1 799.4,152.4 799.9,152.6 800.5,152.9 801.1,153.1 801.6,153.3 802.2,153.6 802.8,153.8 803.3,154.0 803.9,154.3 804.5,154.5 805.1,154.7 805.6,155.0 806.2,155.2 806.8,155.4 807.3,155.7 807.9,155.9 808.5,156.1 809.0,156.4 809.6,156.6 810.2,156.8 810.7,157.0 811.3,157.3 811.9,157.5 812.5,157.7 813.0,157.9 813.6,158.2 814.2,158.4 814.7,158.6 815.3,158.8 815.9,159.0 816.4,159.3 817.0,159.5 817.6,159.7 818.2,159.9 818.7,160.1 819.3,160.3 819.9,160.5 820.4,160.8 821.0,161.0 821.6,161.2 822.1,161.4 822.7,161.6 823.3,161.8 823.8,162.0 824.4,162.2 825.0,162.4 825.6,162.6 826.1,162.8 826.7,163.0 827.3,163.2 827.8,163.4 828.4,163.6 829.0,163.8 829.5,164.0 830.1,164.2 830.7,164.4 831.2,164.6 831.8,164.8 832.4,165.0 833.0,165.2 833.5,165.4 834.1,165.6 834.7,165.8 835.2,166.0 835.8,166.2 836.4,166.4 836.9,166.5 837.5,166.7 838.1,166.9 838.6,167.1 839.2,167.3 839.8,167.5 840.4,167.7 840.9,167.8 841.5,168.0 842.1,168.2 842.6,168.4 843.2,168.6 843.8,168.7 844.3,168.9 844.9,169.1 845.5,169.3 846.1,169.5 846.6,169.6 847.2,169.8 847.8,170.0 848.3,170.2 848.9,170.3 849.5,170.5 850.0,170.7 850.6,170.8 851.2,171.0 851.7,171.2 852.3,171.3 852.9,171.5 853.5,171.7 854.0,171.8 854.6,172.0 855.2,172.2 855.7,172.3 856.3,172.5 856.9,172.7 857.4,172.8 858.0,173.0 858.6,173.1 859.1,173.3 859.7,173.5 860.3,173.6 860.9,173.8 861.4,173.9 862.0,174.1 862.6,174.3 863.1,174.4 863.7,174.6 864.3,174.7 864.8,174.9 865.4,175.0 866.0,175.2 866.5,175.3 867.1,175.5 867.7,175.6 868.3,175.8 868.8,175.9 869.4,176.1 870.0,176.2 870.5,176.4 871.1,176.5 871.7,176.6 872.2,176.8 872.8,176.9 873.4,177.1 874.0,177.2 874.5,177.4 875.1,177.5 875.7,177.6 876.2,177.8 876.8,177.9 877.4,178.1 877.9,178.2 878.5,178.3 879.1,178.5 879.6,178.6 880.2,178.7 880.8,178.9 881.4,179.0 881.9,179.2 882.5,179.3 883.1,179.4 883.6,179.6 884.2,179.7 884.8,179.8 885.3,179.9 885.9,180.1 886.5,180.2 887.0,180.3 887.6,180.5 888.2,180.6 888.8,180.7 889.3,180.8 889.9,181.0 890.5,181.1 891.0,181.2 891.6,181.4 892.2,181.5 892.7,181.6 893.3,181.7 893.9,181.8 894.4,182.0 895.0,182.1 895.6,182.2 896.2,182.3 896.7,182.5 897.3,182.6 897.9,182.7 898.4,182.8 899.0,182.9 899.6,183.1 900.1,183.2 900.7,183.3 901.3,183.4 901.9,183.5 902.4,183.6 903.0,183.8 903.6,183.9 904.1,184.0 904.7,184.1 905.3,184.2 905.8,184.3 906.4,184.4 907.0,184.6 907.5,184.7 908.1,184.8 908.7,184.9 909.3,185.0 909.8,185.1 910.4,185.2 911.0,185.3 911.5,185.4 912.1,185.6 912.7,185.7 913.2,185.8 913.8,185.9 914.4,186.0 914.9,186.1 915.5,186.2 916.1,186.3 916.7,186.4 917.2,186.5 917.8,186.6 918.4,186.7 918.9,186.8 919.5,186.9 920.1,187.0 920.6,187.1 921.2,187.2 921.8,187.4 922.3,187.5 922.9,187.6 923.5,187.7 924.1,187.8 924.6,187.9 925.2,188.0 925.8,188.1 926.3,188.2 926.9,188.3 927.5,188.4 928.0,188.5 928.6,188.6 929.2,188.7 929.8,188.8 930.3,188.9 930.9,189.0 931.5,189.1 932.0,189.1 932.6,189.2 933.2,189.3 933.7,189.4 934.3,189.5 934.9,189.6 935.4,189.7 936.0,189.8 936.6,189.9 937.2,190.0 937.7,190.1 938.3,190.2 938.9,190.3 939.4,190.4 940.0,190.5" fill="none" stroke="#000" stroke-width="1.2" stroke-linejoin="round" />
<line x1="939.30" y1="184.50" x2="939.30" y2="202.00" stroke="#111" stroke-width="1.8"/>
<rect x="995.00" y="19.20" width="474.00" height="353.00" fill="none" stroke="#4a4a4a" stroke-width="1.6"/>
<text transform="translate(1166.3,48.6) scale(1,1.09)" font-size="17" text-anchor="middle" fill="#262626" color="#262626">Cyl 1</text>
<text transform="translate(1231.7,48.6) scale(1,1.09)" font-size="17" text-anchor="middle" fill="#262626" color="#262626">Cyl 2</text>
<text transform="translate(1297.0,48.6) scale(1,1.09)" font-size="17" text-anchor="middle" fill="#262626" color="#262626">Cyl 3</text>
<text transform="translate(1363.3,48.6) scale(1,1.09)" font-size="17" text-anchor="middle" fill="#262626" color="#262626">Cyl 4</text>
<text transform="translate(1428.0,48.6) scale(1,1.09)" font-size="17" text-anchor="middle" fill="#262626" color="#262626">Engine</text>
<text transform="translate(1034.0,95.9) scale(1,1.09)" font-size="17" text-anchor="middle" fill="#262626" color="#262626">PMAX</text>
<text transform="translate(1088.0,95.9) scale(1,1.09)" font-size="17" text-anchor="start" fill="#262626" color="#262626">bar</text>
<rect x="1138.30" y="76.60" width="60.20" height="24.80" fill="none" stroke="#3a3a3a" stroke-width="1.5"/>
<text transform="translate(1191.6,95.9) scale(1,1.09)" font-size="17" text-anchor="end" fill="#24248a" color="#24248a">55.78</text>
<rect x="1203.50" y="76.60" width="60.20" height="24.80" fill="none" stroke="#3a3a3a" stroke-width="1.5"/>
<text transform="translate(1256.8,95.9) scale(1,1.09)" font-size="17" text-anchor="end" fill="#2f812f" color="#2f812f">57.28</text>
<rect x="1268.70" y="76.60" width="60.20" height="24.80" fill="none" stroke="#3a3a3a" stroke-width="1.5"/>
<text transform="translate(1322.0,95.9) scale(1,1.09)" font-size="17" text-anchor="end" fill="#8c2632" color="#8c2632">53.98</text>
<rect x="1333.90" y="76.60" width="60.20" height="24.80" fill="none" stroke="#3a3a3a" stroke-width="1.5"/>
<text transform="translate(1387.2,95.9) scale(1,1.09)" font-size="17" text-anchor="end" fill="#88308f" color="#88308f">57.53</text>
<text transform="translate(1034.0,139.1) scale(1,1.09)" font-size="17" text-anchor="middle" fill="#262626" color="#262626">APMAX</text>
<text transform="translate(1088.0,139.1) scale(1,1.09)" font-size="17" text-anchor="start" fill="#262626" color="#262626">deg</text>
<rect x="1138.30" y="119.80" width="60.20" height="24.80" fill="none" stroke="#3a3a3a" stroke-width="1.5"/>
<text transform="translate(1191.6,139.1) scale(1,1.09)" font-size="17" text-anchor="end" fill="#24248a" color="#24248a">0.0</text>
<rect x="1203.50" y="119.80" width="60.20" height="24.80" fill="none" stroke="#3a3a3a" stroke-width="1.5"/>
<text transform="translate(1256.8,139.1) scale(1,1.09)" font-size="17" text-anchor="end" fill="#2f812f" color="#2f812f">0.0</text>
<rect x="1268.70" y="119.80" width="60.20" height="24.80" fill="none" stroke="#3a3a3a" stroke-width="1.5"/>
<text transform="translate(1322.0,139.1) scale(1,1.09)" font-size="17" text-anchor="end" fill="#8c2632" color="#8c2632">0.0</text>
<rect x="1333.90" y="119.80" width="60.20" height="24.80" fill="none" stroke="#3a3a3a" stroke-width="1.5"/>
<text transform="translate(1387.2,139.1) scale(1,1.09)" font-size="17" text-anchor="end" fill="#88308f" color="#88308f">-1.00</text>
<text transform="translate(1034.0,182.3) scale(1,1.09)" font-size="17" text-anchor="middle" fill="#262626" color="#262626">ARMAX</text>
<text transform="translate(1088.0,182.3) scale(1,1.09)" font-size="17" text-anchor="start" fill="#262626" color="#262626">deg</text>
<rect x="1138.30" y="163.00" width="60.20" height="24.80" fill="none" stroke="#3a3a3a" stroke-width="1.5"/>
<text transform="translate(1191.6,182.3) scale(1,1.09)" font-size="17" text-anchor="end" fill="#24248a" color="#24248a">-17.50</text>
<rect x="1203.50" y="163.00" width="60.20" height="24.80" fill="none" stroke="#3a3a3a" stroke-width="1.5"/>
<text transform="translate(1256.8,182.3) scale(1,1.09)" font-size="17" text-anchor="end" fill="#2f812f" color="#2f812f">-17.50</text>
<rect x="1268.70" y="163.00" width="60.20" height="24.80" fill="none" stroke="#3a3a3a" stroke-width="1.5"/>
<text transform="translate(1322.0,182.3) scale(1,1.09)" font-size="17" text-anchor="end" fill="#8c2632" color="#8c2632">-18.50</text>
<rect x="1333.90" y="163.00" width="60.20" height="24.80" fill="none" stroke="#3a3a3a" stroke-width="1.5"/>
<text transform="translate(1387.2,182.3) scale(1,1.09)" font-size="17" text-anchor="end" fill="#88308f" color="#88308f">-20.50</text>
<text transform="translate(1034.0,225.5) scale(1,1.09)" font-size="17" text-anchor="middle" fill="#262626" color="#262626">IMEP</text>
<text transform="translate(1088.0,225.5) scale(1,1.09)" font-size="17" text-anchor="start" fill="#262626" color="#262626">bar</text>
<rect x="1138.30" y="206.20" width="60.20" height="24.80" fill="none" stroke="#3a3a3a" stroke-width="1.5"/>
<text transform="translate(1191.6,225.5) scale(1,1.09)" font-size="17" text-anchor="end" fill="#24248a" color="#24248a">-0.504</text>
<rect x="1203.50" y="206.20" width="60.20" height="24.80" fill="none" stroke="#3a3a3a" stroke-width="1.5"/>
<text transform="translate(1256.8,225.5) scale(1,1.09)" font-size="17" text-anchor="end" fill="#2f812f" color="#2f812f">-0.457</text>
<rect x="1268.70" y="206.20" width="60.20" height="24.80" fill="none" stroke="#3a3a3a" stroke-width="1.5"/>
<text transform="translate(1322.0,225.5) scale(1,1.09)" font-size="17" text-anchor="end" fill="#8c2632" color="#8c2632">-0.295</text>
<rect x="1333.90" y="206.20" width="60.20" height="24.80" fill="none" stroke="#3a3a3a" stroke-width="1.5"/>
<text transform="translate(1387.2,225.5) scale(1,1.09)" font-size="17" text-anchor="end" fill="#88308f" color="#88308f">-0.341</text>
<text transform="translate(1034.0,268.7) scale(1,1.09)" font-size="17" text-anchor="middle" fill="#262626" color="#262626">IMEPH</text>
<text transform="translate(1088.0,268.7) scale(1,1.09)" font-size="17" text-anchor="start" fill="#262626" color="#262626">bar</text>
<rect x="1138.30" y="249.40" width="60.20" height="24.80" fill="none" stroke="#3a3a3a" stroke-width="1.5"/>
<text transform="translate(1191.6,268.7) scale(1,1.09)" font-size="17" text-anchor="end" fill="#24248a" color="#24248a">-0.241</text>
<rect x="1203.50" y="249.40" width="60.20" height="24.80" fill="none" stroke="#3a3a3a" stroke-width="1.5"/>
<text transform="translate(1256.8,268.7) scale(1,1.09)" font-size="17" text-anchor="end" fill="#2f812f" color="#2f812f">-0.233</text>
<rect x="1268.70" y="249.40" width="60.20" height="24.80" fill="none" stroke="#3a3a3a" stroke-width="1.5"/>
<text transform="translate(1322.0,268.7) scale(1,1.09)" font-size="17" text-anchor="end" fill="#8c2632" color="#8c2632">-0.149</text>
<rect x="1333.90" y="249.40" width="60.20" height="24.80" fill="none" stroke="#3a3a3a" stroke-width="1.5"/>
<text transform="translate(1387.2,268.7) scale(1,1.09)" font-size="17" text-anchor="end" fill="#88308f" color="#88308f">-0.149</text>
<text transform="translate(1034.0,311.9) scale(1,1.09)" font-size="17" text-anchor="middle" fill="#262626" color="#262626">IMEPL</text>
<text transform="translate(1088.0,311.9) scale(1,1.09)" font-size="17" text-anchor="start" fill="#262626" color="#262626">bar</text>
<rect x="1138.30" y="292.60" width="60.20" height="24.80" fill="none" stroke="#3a3a3a" stroke-width="1.5"/>
<text transform="translate(1191.6,311.9) scale(1,1.09)" font-size="17" text-anchor="end" fill="#24248a" color="#24248a">-0.263</text>
<rect x="1203.50" y="292.60" width="60.20" height="24.80" fill="none" stroke="#3a3a3a" stroke-width="1.5"/>
<text transform="translate(1256.8,311.9) scale(1,1.09)" font-size="17" text-anchor="end" fill="#2f812f" color="#2f812f">-0.224</text>
<rect x="1268.70" y="292.60" width="60.20" height="24.80" fill="none" stroke="#3a3a3a" stroke-width="1.5"/>
<text transform="translate(1322.0,311.9) scale(1,1.09)" font-size="17" text-anchor="end" fill="#8c2632" color="#8c2632">-0.146</text>
<rect x="1333.90" y="292.60" width="60.20" height="24.80" fill="none" stroke="#3a3a3a" stroke-width="1.5"/>
<text transform="translate(1387.2,311.9) scale(1,1.09)" font-size="17" text-anchor="end" fill="#88308f" color="#88308f">-0.193</text>
<text transform="translate(1034.0,355.1) scale(1,1.09)" font-size="17" text-anchor="middle" fill="#262626" color="#262626">SPEED</text>
<text transform="translate(1088.0,355.1) scale(1,1.09)" font-size="17" text-anchor="start" fill="#262626" color="#262626">rpm</text>
<rect x="1399.50" y="336.20" width="60.00" height="24.80" fill="none" stroke="#3a3a3a" stroke-width="1.5"/>
<text transform="translate(1454.0,355.5) scale(1,1.09)" font-size="17" text-anchor="end" fill="#262626" color="#262626" letter-spacing="0.45">4000.9</text>
<rect x="121.80" y="318.20" width="820.00" height="156.40" fill="none" stroke="#4a4a4a" stroke-width="1.6"/>
<text transform="translate(412.3,342.4) scale(1,1.15)" font-size="15" text-anchor="middle" fill="#24248a" color="#24248a" letter-spacing="0.2">PMAX1</text>
<text transform="translate(411.8,360.6) scale(1,1.27)" font-size="13.6" text-anchor="middle" fill="#24248a" color="#24248a">bar</text>
<text transform="translate(561.5,342.4) scale(1,1.15)" font-size="15" text-anchor="middle" fill="#2f812f" color="#2f812f" letter-spacing="0.2">PMAX2</text>
<text transform="translate(561.0,360.6) scale(1,1.27)" font-size="13.6" text-anchor="middle" fill="#2f812f" color="#2f812f">bar</text>
<text transform="translate(710.5,342.4) scale(1,1.15)" font-size="15" text-anchor="middle" fill="#8c2632" color="#8c2632" letter-spacing="0.2">PMAX3</text>
<text transform="translate(710.0,360.6) scale(1,1.27)" font-size="13.6" text-anchor="middle" fill="#8c2632" color="#8c2632">bar</text>
<text transform="translate(859.3,342.4) scale(1,1.15)" font-size="15" text-anchor="middle" fill="#88308f" color="#88308f" letter-spacing="0.2">PMAX4</text>
<text transform="translate(858.8,360.6) scale(1,1.27)" font-size="13.6" text-anchor="middle" fill="#88308f" color="#88308f">bar</text>
<text transform="translate(137.0,382.8) scale(1,1.15)" font-size="15" text-anchor="start" fill="#262626" color="#262626">Min</text>
<rect x="191.00" y="365.10" width="143.60" height="22.90" fill="none" stroke="#3a3a3a" stroke-width="1.5"/>
<rect x="341.30" y="365.10" width="142.00" height="22.90" fill="none" stroke="#3a3a3a" stroke-width="1.5"/>
<text transform="translate(476.5,382.8) scale(1,1.15)" font-size="15" text-anchor="end" fill="#24248a" color="#24248a">55.03</text>
<rect x="489.90" y="365.10" width="143.30" height="22.90" fill="none" stroke="#3a3a3a" stroke-width="1.5"/>
<text transform="translate(626.4,382.8) scale(1,1.15)" font-size="15" text-anchor="end" fill="#2f812f" color="#2f812f">56.93</text>
<rect x="638.80" y="365.10" width="143.30" height="22.90" fill="none" stroke="#3a3a3a" stroke-width="1.5"/>
<text transform="translate(775.3,382.8) scale(1,1.15)" font-size="15" text-anchor="end" fill="#8c2632" color="#8c2632">53.87</text>
<rect x="787.60" y="365.10" width="143.40" height="22.90" fill="none" stroke="#3a3a3a" stroke-width="1.5"/>
<text transform="translate(924.2,382.8) scale(1,1.15)" font-size="15" text-anchor="end" fill="#88308f" color="#88308f">57.19</text>
<text transform="translate(137.0,408.4) scale(1,1.15)" font-size="15" text-anchor="start" fill="#262626" color="#262626">Mean</text>
<rect x="191.00" y="390.75" width="143.60" height="22.90" fill="none" stroke="#3a3a3a" stroke-width="1.5"/>
<rect x="341.30" y="390.75" width="142.00" height="22.90" fill="none" stroke="#3a3a3a" stroke-width="1.5"/>
<text transform="translate(476.5,408.4) scale(1,1.15)" font-size="15" text-anchor="end" fill="#24248a" color="#24248a">55.42</text>
<rect x="489.90" y="390.75" width="143.30" height="22.90" fill="none" stroke="#3a3a3a" stroke-width="1.5"/>
<text transform="translate(626.4,408.4) scale(1,1.15)" font-size="15" text-anchor="end" fill="#2f812f" color="#2f812f">57.19</text>
<rect x="638.80" y="390.75" width="143.30" height="22.90" fill="none" stroke="#3a3a3a" stroke-width="1.5"/>
<text transform="translate(775.3,408.4) scale(1,1.15)" font-size="15" text-anchor="end" fill="#8c2632" color="#8c2632">53.95</text>
<rect x="787.60" y="390.75" width="143.40" height="22.90" fill="none" stroke="#3a3a3a" stroke-width="1.5"/>
<text transform="translate(924.2,408.4) scale(1,1.15)" font-size="15" text-anchor="end" fill="#88308f" color="#88308f">57.80</text>
<text transform="translate(137.0,434.1) scale(1,1.15)" font-size="15" text-anchor="start" fill="#262626" color="#262626">Max</text>
<rect x="191.00" y="416.40" width="143.60" height="22.90" fill="none" stroke="#3a3a3a" stroke-width="1.5"/>
<rect x="341.30" y="416.40" width="142.00" height="22.90" fill="none" stroke="#3a3a3a" stroke-width="1.5"/>
<text transform="translate(476.5,434.1) scale(1,1.15)" font-size="15" text-anchor="end" fill="#24248a" color="#24248a">55.78</text>
<rect x="489.90" y="416.40" width="143.30" height="22.90" fill="none" stroke="#3a3a3a" stroke-width="1.5"/>
<text transform="translate(626.4,434.1) scale(1,1.15)" font-size="15" text-anchor="end" fill="#2f812f" color="#2f812f">57.58</text>
<rect x="638.80" y="416.40" width="143.30" height="22.90" fill="none" stroke="#3a3a3a" stroke-width="1.5"/>
<text transform="translate(775.3,434.1) scale(1,1.15)" font-size="15" text-anchor="end" fill="#8c2632" color="#8c2632">54.04</text>
<rect x="787.60" y="416.40" width="143.40" height="22.90" fill="none" stroke="#3a3a3a" stroke-width="1.5"/>
<text transform="translate(924.2,434.1) scale(1,1.15)" font-size="15" text-anchor="end" fill="#88308f" color="#88308f">58.33</text>
<text transform="translate(137.0,459.8) scale(1,1.15)" font-size="15" text-anchor="start" fill="#262626" color="#262626">CoV%</text>
<rect x="191.00" y="442.05" width="143.60" height="22.90" fill="none" stroke="#3a3a3a" stroke-width="1.5"/>
<rect x="341.30" y="442.05" width="142.00" height="22.90" fill="none" stroke="#3a3a3a" stroke-width="1.5"/>
<text transform="translate(476.5,459.8) scale(1,1.15)" font-size="15" text-anchor="end" fill="#24248a" color="#24248a">0.346</text>
<rect x="489.90" y="442.05" width="143.30" height="22.90" fill="none" stroke="#3a3a3a" stroke-width="1.5"/>
<text transform="translate(626.4,459.8) scale(1,1.15)" font-size="15" text-anchor="end" fill="#2f812f" color="#2f812f">0.248</text>
<rect x="638.80" y="442.05" width="143.30" height="22.90" fill="none" stroke="#3a3a3a" stroke-width="1.5"/>
<text transform="translate(775.3,459.8) scale(1,1.15)" font-size="15" text-anchor="end" fill="#8c2632" color="#8c2632">0.075</text>
<rect x="787.60" y="442.05" width="143.40" height="22.90" fill="none" stroke="#3a3a3a" stroke-width="1.5"/>
<text transform="translate(924.2,459.8) scale(1,1.15)" font-size="15" text-anchor="end" fill="#88308f" color="#88308f">0.368</text>
<rect x="121.80" y="494.80" width="1216.30" height="397.80" fill="none" stroke="#9a9a9a" stroke-width="1.4"/>
<line x1="172.48" y1="495.50" x2="172.48" y2="891.90" stroke="#3c3c3c" stroke-width="1.4"/>
<line x1="223.16" y1="495.50" x2="223.16" y2="891.90" stroke="#3c3c3c" stroke-width="1.4"/>
<line x1="273.84" y1="495.50" x2="273.84" y2="891.90" stroke="#3c3c3c" stroke-width="1.4"/>
<line x1="324.52" y1="495.50" x2="324.52" y2="891.90" stroke="#3c3c3c" stroke-width="1.4"/>
<line x1="375.20" y1="495.50" x2="375.20" y2="891.90" stroke="#3c3c3c" stroke-width="1.4"/>
<line x1="425.88" y1="495.50" x2="425.88" y2="891.90" stroke="#3c3c3c" stroke-width="1.4"/>
<line x1="476.55" y1="495.50" x2="476.55" y2="891.90" stroke="#3c3c3c" stroke-width="1.4"/>
<line x1="527.23" y1="495.50" x2="527.23" y2="891.90" stroke="#3c3c3c" stroke-width="1.4"/>
<line x1="577.91" y1="495.50" x2="577.91" y2="891.90" stroke="#3c3c3c" stroke-width="1.4"/>
<line x1="628.59" y1="495.50" x2="628.59" y2="891.90" stroke="#3c3c3c" stroke-width="1.4"/>
<line x1="679.27" y1="495.50" x2="679.27" y2="891.90" stroke="#3c3c3c" stroke-width="1.4"/>
<line x1="729.95" y1="495.50" x2="729.95" y2="891.90" stroke="#3c3c3c" stroke-width="1.4"/>
<line x1="780.63" y1="495.50" x2="780.63" y2="891.90" stroke="#3c3c3c" stroke-width="1.4"/>
<line x1="831.31" y1="495.50" x2="831.31" y2="891.90" stroke="#3c3c3c" stroke-width="1.4"/>
<line x1="881.99" y1="495.50" x2="881.99" y2="891.90" stroke="#3c3c3c" stroke-width="1.4"/>
<line x1="932.67" y1="495.50" x2="932.67" y2="891.90" stroke="#3c3c3c" stroke-width="1.4"/>
<line x1="983.35" y1="495.50" x2="983.35" y2="891.90" stroke="#3c3c3c" stroke-width="1.4"/>
<line x1="1034.02" y1="495.50" x2="1034.02" y2="891.90" stroke="#3c3c3c" stroke-width="1.4"/>
<line x1="1084.70" y1="495.50" x2="1084.70" y2="891.90" stroke="#3c3c3c" stroke-width="1.4"/>
<line x1="1135.38" y1="495.50" x2="1135.38" y2="891.90" stroke="#3c3c3c" stroke-width="1.4"/>
<line x1="1186.06" y1="495.50" x2="1186.06" y2="891.90" stroke="#3c3c3c" stroke-width="1.4"/>
<line x1="1236.74" y1="495.50" x2="1236.74" y2="891.90" stroke="#3c3c3c" stroke-width="1.4"/>
<line x1="1287.42" y1="495.50" x2="1287.42" y2="891.90" stroke="#3c3c3c" stroke-width="1.4"/>
<line x1="122.50" y1="793.15" x2="1336.60" y2="793.15" stroke="#3c3c3c" stroke-width="1.4"/>
<line x1="122.50" y1="693.70" x2="1336.60" y2="693.70" stroke="#3c3c3c" stroke-width="1.4"/>
<line x1="122.50" y1="594.25" x2="1336.60" y2="594.25" stroke="#3c3c3c" stroke-width="1.4"/>
<line x1="117.00" y1="494.80" x2="117.00" y2="892.60" stroke="#333" stroke-width="1.5"/>
<line x1="106.50" y1="892.60" x2="117.70" y2="892.60" stroke="#333" stroke-width="1.5"/>
<text transform="translate(98.8,900.2) scale(1,1.1)" font-size="21" text-anchor="end" fill="#262626" color="#262626">0</text>
<line x1="106.50" y1="793.15" x2="117.70" y2="793.15" stroke="#333" stroke-width="1.5"/>
<text transform="translate(98.8,800.8) scale(1,1.1)" font-size="21" text-anchor="end" fill="#262626" color="#262626">20</text>
<line x1="106.50" y1="693.70" x2="117.70" y2="693.70" stroke="#333" stroke-width="1.5"/>
<text transform="translate(98.8,701.3) scale(1,1.1)" font-size="21" text-anchor="end" fill="#262626" color="#262626">40</text>
<line x1="106.50" y1="594.25" x2="117.70" y2="594.25" stroke="#333" stroke-width="1.5"/>
<text transform="translate(98.8,601.9) scale(1,1.1)" font-size="21" text-anchor="end" fill="#262626" color="#262626">60</text>
<line x1="106.50" y1="494.80" x2="117.70" y2="494.80" stroke="#333" stroke-width="1.5"/>
<text transform="translate(98.8,502.4) scale(1,1.1)" font-size="21" text-anchor="end" fill="#262626" color="#262626">80</text>
<line x1="121.80" y1="897.80" x2="1338.10" y2="897.80" stroke="#333" stroke-width="1.5"/>
<line x1="121.80" y1="897.10" x2="121.80" y2="907.50" stroke="#333" stroke-width="1.5"/>
<text transform="translate(120.9,931.0) scale(1,1.1)" font-size="21" text-anchor="middle" fill="#262626" color="#262626">-360</text>
<line x1="223.16" y1="897.10" x2="223.16" y2="907.50" stroke="#333" stroke-width="1.5"/>
<text transform="translate(222.3,931.0) scale(1,1.1)" font-size="21" text-anchor="middle" fill="#262626" color="#262626">-300</text>
<line x1="324.52" y1="897.10" x2="324.52" y2="907.50" stroke="#333" stroke-width="1.5"/>
<text transform="translate(323.6,931.0) scale(1,1.1)" font-size="21" text-anchor="middle" fill="#262626" color="#262626">-240</text>
<line x1="425.88" y1="897.10" x2="425.88" y2="907.50" stroke="#333" stroke-width="1.5"/>
<text transform="translate(425.0,931.0) scale(1,1.1)" font-size="21" text-anchor="middle" fill="#262626" color="#262626">-180</text>
<line x1="527.23" y1="897.10" x2="527.23" y2="907.50" stroke="#333" stroke-width="1.5"/>
<text transform="translate(526.3,931.0) scale(1,1.1)" font-size="21" text-anchor="middle" fill="#262626" color="#262626">-120</text>
<line x1="628.59" y1="897.10" x2="628.59" y2="907.50" stroke="#333" stroke-width="1.5"/>
<text transform="translate(627.7,931.0) scale(1,1.1)" font-size="21" text-anchor="middle" fill="#262626" color="#262626">-60</text>
<line x1="729.95" y1="897.10" x2="729.95" y2="907.50" stroke="#333" stroke-width="1.5"/>
<text transform="translate(729.0,931.0) scale(1,1.1)" font-size="21" text-anchor="middle" fill="#262626" color="#262626">0</text>
<line x1="831.31" y1="897.10" x2="831.31" y2="907.50" stroke="#333" stroke-width="1.5"/>
<text transform="translate(830.4,931.0) scale(1,1.1)" font-size="21" text-anchor="middle" fill="#262626" color="#262626">60</text>
<line x1="932.67" y1="897.10" x2="932.67" y2="907.50" stroke="#333" stroke-width="1.5"/>
<text transform="translate(931.8,931.0) scale(1,1.1)" font-size="21" text-anchor="middle" fill="#262626" color="#262626">120</text>
<line x1="1034.02" y1="897.10" x2="1034.02" y2="907.50" stroke="#333" stroke-width="1.5"/>
<text transform="translate(1033.1,931.0) scale(1,1.1)" font-size="21" text-anchor="middle" fill="#262626" color="#262626">180</text>
<line x1="1135.38" y1="897.10" x2="1135.38" y2="907.50" stroke="#333" stroke-width="1.5"/>
<text transform="translate(1134.5,931.0) scale(1,1.1)" font-size="21" text-anchor="middle" fill="#262626" color="#262626">240</text>
<line x1="1236.74" y1="897.10" x2="1236.74" y2="907.50" stroke="#333" stroke-width="1.5"/>
<text transform="translate(1235.8,931.0) scale(1,1.1)" font-size="21" text-anchor="middle" fill="#262626" color="#262626">300</text>
<line x1="1338.10" y1="897.10" x2="1338.10" y2="907.50" stroke="#333" stroke-width="1.5"/>
<text transform="translate(1337.2,931.0) scale(1,1.1)" font-size="21" text-anchor="middle" fill="#262626" color="#262626">360</text>
<text x="729.6" y="955.3" font-size="21.8" text-anchor="middle" fill="#262626" color="#262626" >Crank Angle [deg]</text>
<text x="0.0" y="0.0" font-size="21" text-anchor="middle" fill="#262626" color="#262626" transform="translate(39,694.4) rotate(-90)">PCYL [bar]</text>
<polyline points="121.8,608.8 123.5,609.6 125.2,611.1 126.9,613.2 128.6,616.0 130.2,619.3 131.9,623.1 133.6,627.5 135.3,632.3 137.0,637.5 138.7,643.1 140.4,649.0 142.1,655.1 143.8,661.4 145.5,667.8 147.1,674.4 148.8,681.0 150.5,687.6 152.2,694.2 153.9,700.7 155.6,707.2 157.3,713.6 159.0,719.9 160.7,726.0 162.3,731.9 164.0,737.8 165.7,743.4 167.4,748.9 169.1,754.1 170.8,759.2 172.5,764.2 174.2,768.9 175.9,773.4 177.5,777.8 179.2,782.0 180.9,786.0 182.6,789.9 184.3,793.6 186.0,797.1 187.7,800.5 189.4,803.8 191.1,806.8 192.8,809.8 194.4,812.6 196.1,815.4 197.8,817.9 199.5,820.4 201.2,822.8 202.9,825.0 204.6,827.2 206.3,829.3 208.0,831.3 209.6,833.1 211.3,835.0 213.0,836.7 214.7,838.3 216.4,839.9 218.1,841.4 219.8,842.9 221.5,844.3 223.2,845.6 224.8,846.9 226.5,848.1 228.2,849.3 229.9,850.4 231.6,851.5 233.3,852.5 235.0,853.5 236.7,854.5 238.4,855.4 240.1,856.3 241.7,857.1 243.4,858.0 245.1,858.7 246.8,859.5 248.5,860.2 250.2,860.9 251.9,861.6 253.6,862.2 255.3,862.8 256.9,863.4 258.6,864.0 260.3,864.6 262.0,865.1 263.7,865.6 265.4,866.1 267.1,866.6 268.8,867.1 270.5,867.5 272.1,867.9 273.8,868.3 275.5,868.7 277.2,869.1 278.9,869.5 280.6,869.9 282.3,870.2 284.0,870.5 285.7,870.9 287.4,871.2 289.0,871.5 290.7,871.8 292.4,872.1 294.1,872.3 295.8,872.6 297.5,872.9 299.2,873.1 300.9,873.4 302.6,873.6 304.2,873.8 305.9,874.0 307.6,874.3 309.3,874.5 311.0,874.7 312.7,874.9 314.4,875.0 316.1,875.2 317.8,875.4 319.4,875.6 321.1,875.7 322.8,875.9 324.5,876.0 326.2,876.2 327.9,876.3 329.6,876.5 331.3,876.6 333.0,876.7 334.7,876.9 336.3,877.0 338.0,877.1 339.7,877.2 341.4,877.3 343.1,877.4 344.8,877.5 346.5,877.6 348.2,877.7 349.9,877.8 351.5,877.9 353.2,878.0 354.9,878.1 356.6,878.2 358.3,878.3 360.0,878.3 361.7,878.4 363.4,878.5 365.1,878.6 366.7,878.6 368.4,878.7 370.1,878.8 371.8,878.8 373.5,878.9 375.2,878.9 376.9,879.0 378.6,879.0 380.3,879.1 382.0,879.1 383.6,879.2 385.3,879.2 387.0,879.2 388.7,879.3 390.4,879.3 392.1,879.4 393.8,879.4 395.5,879.4 397.2,879.4 398.8,879.5 400.5,879.5 402.2,879.5 403.9,879.5 405.6,879.6 407.3,879.6 409.0,879.6 410.7,879.6 412.4,879.6 414.0,879.6 415.7,879.6 417.4,879.7 419.1,879.7 420.8,879.7 422.5,879.7 424.2,879.7 425.9,879.7 427.6,879.7 429.3,879.7 430.9,879.7 432.6,879.7 434.3,879.6 436.0,879.6 437.7,879.6 439.4,879.6 441.1,879.6 442.8,879.6 444.5,879.6 446.1,879.5 447.8,879.5 449.5,879.5 451.2,879.5 452.9,879.4 454.6,879.4 456.3,879.4 458.0,879.3 459.7,879.3 461.4,879.3 463.0,879.2 464.7,879.2 466.4,879.1 468.1,879.1 469.8,879.1 471.5,879.0 473.2,879.0 474.9,878.9 476.6,878.8 478.2,878.8 479.9,878.7 481.6,878.7 483.3,878.6 485.0,878.5 486.7,878.5 488.4,878.4 490.1,878.3 491.8,878.2 493.4,878.2 495.1,878.1 496.8,878.0 498.5,877.9 500.2,877.8 501.9,877.7 503.6,877.6 505.3,877.5 507.0,877.4 508.7,877.3 510.3,877.2 512.0,877.1 513.7,876.9 515.4,876.8 517.1,876.7 518.8,876.6 520.5,876.4 522.2,876.3 523.9,876.1 525.5,876.0 527.2,875.8 528.9,875.7 530.6,875.5 532.3,875.3 534.0,875.1 535.7,875.0 537.4,874.8 539.1,874.6 540.7,874.4 542.4,874.2 544.1,874.0 545.8,873.7 547.5,873.5 549.2,873.3 550.9,873.0 552.6,872.8 554.3,872.5 556.0,872.2 557.6,872.0 559.3,871.7 561.0,871.4 562.7,871.1 564.4,870.7 566.1,870.4 567.8,870.1 569.5,869.7 571.2,869.4 572.8,869.0 574.5,868.6 576.2,868.2 577.9,867.8 579.6,867.3 581.3,866.9 583.0,866.4 584.7,865.9 586.4,865.4 588.0,864.9 589.7,864.3 591.4,863.8 593.1,863.2 594.8,862.6 596.5,862.0 598.2,861.3 599.9,860.6 601.6,859.9 603.3,859.2 604.9,858.4 606.6,857.6 608.3,856.8 610.0,855.9 611.7,855.1 613.4,854.1 615.1,853.1 616.8,852.1 618.5,851.1 620.1,850.0 621.8,848.8 623.5,847.6 625.2,846.4 626.9,845.1 628.6,843.7 630.3,842.3 632.0,840.9 633.7,839.3 635.3,837.7 637.0,836.0 638.7,834.2 640.4,832.4 642.1,830.5 643.8,828.5 645.5,826.4 647.2,824.2 648.9,821.9 650.6,819.4 652.2,816.9 653.9,814.3 655.6,811.5 657.3,808.6 659.0,805.6 660.7,802.5 662.4,799.2 664.1,795.7 665.8,792.1 667.4,788.4 669.1,784.4 670.8,780.3 672.5,776.1 674.2,771.6 675.9,767.0 677.6,762.2 679.3,757.2 681.0,752.0 682.6,746.7 684.3,741.2 686.0,735.5 687.7,729.6 689.4,723.5 691.1,717.4 692.8,711.1 694.5,704.6 696.2,698.1 697.9,691.5 699.5,684.9 701.2,678.3 702.9,671.7 704.6,665.2 706.3,658.8 708.0,652.6 709.7,646.6 711.4,640.8 713.1,635.4 714.7,630.3 716.4,625.7 718.1,621.5 719.8,617.9 721.5,614.8 723.2,612.3 724.9,610.4 726.6,609.2 728.3,608.7 729.9,608.8 731.6,609.6 733.3,611.1 735.0,613.2 736.7,616.0 738.4,619.3 740.1,623.1 741.8,627.5 743.5,632.3 745.2,637.5 746.8,643.1 748.5,649.0 750.2,655.1 751.9,661.4 753.6,667.8 755.3,674.4 757.0,681.0 758.7,687.6 760.4,694.2 762.0,700.7 763.7,707.2 765.4,713.6 767.1,719.9 768.8,726.0 770.5,731.9 772.2,737.8 773.9,743.4 775.6,748.9 777.3,754.1 778.9,759.2 780.6,764.2 782.3,768.9 784.0,773.4 785.7,777.8 787.4,782.0 789.1,786.0 790.8,789.9 792.5,793.6 794.1,797.1 795.8,800.5 797.5,803.8 799.2,806.8 800.9,809.8 802.6,812.6 804.3,815.4 806.0,817.9 807.7,820.4 809.3,822.8 811.0,825.0 812.7,827.2 814.4,829.3 816.1,831.3 817.8,833.1 819.5,835.0 821.2,836.7 822.9,838.3 824.6,839.9 826.2,841.4 827.9,842.9 829.6,844.3 831.3,845.6 833.0,846.9 834.7,848.1 836.4,849.3 838.1,850.4 839.8,851.5 841.4,852.5 843.1,853.5 844.8,854.5 846.5,855.4 848.2,856.3 849.9,857.1 851.6,858.0 853.3,858.7 855.0,859.5 856.6,860.2 858.3,860.9 860.0,861.6 861.7,862.2 863.4,862.8 865.1,863.4 866.8,864.0 868.5,864.6 870.2,865.1 871.9,865.6 873.5,866.1 875.2,866.6 876.9,867.1 878.6,867.5 880.3,867.9 882.0,868.3 883.7,868.7 885.4,869.1 887.1,869.5 888.7,869.9 890.4,870.2 892.1,870.5 893.8,870.9 895.5,871.2 897.2,871.5 898.9,871.8 900.6,872.1 902.3,872.3 903.9,872.6 905.6,872.9 907.3,873.1 909.0,873.4 910.7,873.6 912.4,873.8 914.1,874.0 915.8,874.3 917.5,874.5 919.2,874.7 920.8,874.9 922.5,875.0 924.2,875.2 925.9,875.4 927.6,875.6 929.3,875.7 931.0,875.9 932.7,876.0 934.4,876.2 936.0,876.3 937.7,876.5 939.4,876.6 941.1,876.7 942.8,876.9 944.5,877.0 946.2,877.1 947.9,877.2 949.6,877.3 951.2,877.4 952.9,877.5 954.6,877.6 956.3,877.7 958.0,877.8 959.7,877.9 961.4,878.0 963.1,878.1 964.8,878.2 966.5,878.3 968.1,878.3 969.8,878.4 971.5,878.5 973.2,878.6 974.9,878.6 976.6,878.7 978.3,878.8 980.0,878.8 981.7,878.9 983.3,878.9 985.0,879.0 986.7,879.0 988.4,879.1 990.1,879.1 991.8,879.2 993.5,879.2 995.2,879.2 996.9,879.3 998.5,879.3 1000.2,879.4 1001.9,879.4 1003.6,879.4 1005.3,879.4 1007.0,879.5 1008.7,879.5 1010.4,879.5 1012.1,879.5 1013.8,879.6 1015.4,879.6 1017.1,879.6 1018.8,879.6 1020.5,879.6 1022.2,879.6 1023.9,879.6 1025.6,879.7 1027.3,879.7 1029.0,879.7 1030.6,879.7 1032.3,879.7 1034.0,879.7 1035.7,879.7 1037.4,879.7 1039.1,879.7 1040.8,879.7 1042.5,879.6 1044.2,879.6 1045.9,879.6 1047.5,879.6 1049.2,879.6 1050.9,879.6 1052.6,879.6 1054.3,879.5 1056.0,879.5 1057.7,879.5 1059.4,879.5 1061.1,879.4 1062.7,879.4 1064.4,879.4 1066.1,879.3 1067.8,879.3 1069.5,879.3 1071.2,879.2 1072.9,879.2 1074.6,879.1 1076.3,879.1 1077.9,879.1 1079.6,879.0 1081.3,879.0 1083.0,878.9 1084.7,878.8 1086.4,878.8 1088.1,878.7 1089.8,878.7 1091.5,878.6 1093.2,878.5 1094.8,878.5 1096.5,878.4 1098.2,878.3 1099.9,878.2 1101.6,878.2 1103.3,878.1 1105.0,878.0 1106.7,877.9 1108.4,877.8 1110.0,877.7 1111.7,877.6 1113.4,877.5 1115.1,877.4 1116.8,877.3 1118.5,877.2 1120.2,877.1 1121.9,876.9 1123.6,876.8 1125.2,876.7 1126.9,876.6 1128.6,876.4 1130.3,876.3 1132.0,876.1 1133.7,876.0 1135.4,875.8 1137.1,875.7 1138.8,875.5 1140.5,875.3 1142.1,875.1 1143.8,875.0 1145.5,874.8 1147.2,874.6 1148.9,874.4 1150.6,874.2 1152.3,874.0 1154.0,873.7 1155.7,873.5 1157.3,873.3 1159.0,873.0 1160.7,872.8 1162.4,872.5 1164.1,872.2 1165.8,872.0 1167.5,871.7 1169.2,871.4 1170.9,871.1 1172.5,870.7 1174.2,870.4 1175.9,870.1 1177.6,869.7 1179.3,869.4 1181.0,869.0 1182.7,868.6 1184.4,868.2 1186.1,867.8 1187.8,867.3 1189.4,866.9 1191.1,866.4 1192.8,865.9 1194.5,865.4 1196.2,864.9 1197.9,864.3 1199.6,863.8 1201.3,863.2 1203.0,862.6 1204.6,862.0 1206.3,861.3 1208.0,860.6 1209.7,859.9 1211.4,859.2 1213.1,858.4 1214.8,857.6 1216.5,856.8 1218.2,855.9 1219.8,855.1 1221.5,854.1 1223.2,853.1 1224.9,852.1 1226.6,851.1 1228.3,850.0 1230.0,848.8 1231.7,847.6 1233.4,846.4 1235.1,845.1 1236.7,843.7 1238.4,842.3 1240.1,840.9 1241.8,839.3 1243.5,837.7 1245.2,836.0 1246.9,834.2 1248.6,832.4 1250.3,830.5 1251.9,828.5 1253.6,826.4 1255.3,824.2 1257.0,821.9 1258.7,819.4 1260.4,816.9 1262.1,814.3 1263.8,811.5 1265.5,808.6 1267.1,805.6 1268.8,802.5 1270.5,799.2 1272.2,795.7 1273.9,792.1 1275.6,788.4 1277.3,784.4 1279.0,780.3 1280.7,776.1 1282.4,771.6 1284.0,767.0 1285.7,762.2 1287.4,757.2 1289.1,752.0 1290.8,746.7 1292.5,741.2 1294.2,735.5 1295.9,729.6 1297.6,723.5 1299.2,717.4 1300.9,711.1 1302.6,704.6 1304.3,698.1 1306.0,691.5 1307.7,684.9 1309.4,678.3 1311.1,671.7 1312.8,665.2 1314.4,658.8 1316.1,652.6 1317.8,646.6 1319.5,640.8 1321.2,635.4 1322.9,630.3 1324.6,625.7 1326.3,621.5 1328.0,617.9 1329.7,614.8 1331.3,612.3 1333.0,610.4 1334.7,609.2" fill="none" stroke="#226e22" stroke-width="1.35" stroke-linejoin="round" />
<polyline points="121.8,617.0 123.5,617.8 125.2,619.2 126.9,621.2 128.6,623.9 130.2,627.0 131.9,630.7 133.6,634.9 135.3,639.5 137.0,644.5 138.7,649.9 140.4,655.5 142.1,661.4 143.8,667.4 145.5,673.6 147.1,679.9 148.8,686.3 150.5,692.7 152.2,699.0 153.9,705.4 155.6,711.6 157.3,717.8 159.0,723.8 160.7,729.8 162.3,735.5 164.0,741.2 165.7,746.6 167.4,751.9 169.1,757.0 170.8,762.0 172.5,766.8 174.2,771.4 175.9,775.8 177.5,780.1 179.2,784.1 180.9,788.1 182.6,791.8 184.3,795.4 186.0,798.9 187.7,802.2 189.4,805.3 191.1,808.4 192.8,811.3 194.4,814.0 196.1,816.7 197.8,819.2 199.5,821.6 201.2,823.9 202.9,826.2 204.6,828.3 206.3,830.3 208.0,832.2 209.6,834.1 211.3,835.9 213.0,837.6 214.7,839.2 216.4,840.7 218.1,842.2 219.8,843.6 221.5,845.0 223.2,846.3 224.8,847.6 226.5,848.8 228.2,849.9 229.9,851.0 231.6,852.1 233.3,853.1 235.0,854.1 236.7,855.0 238.4,855.9 240.1,856.8 241.7,857.6 243.4,858.4 245.1,859.2 246.8,859.9 248.5,860.6 250.2,861.3 251.9,862.0 253.6,862.6 255.3,863.2 256.9,863.8 258.6,864.4 260.3,864.9 262.0,865.5 263.7,866.0 265.4,866.5 267.1,866.9 268.8,867.4 270.5,867.8 272.1,868.2 273.8,868.6 275.5,869.0 277.2,869.4 278.9,869.8 280.6,870.1 282.3,870.5 284.0,870.8 285.7,871.1 287.4,871.5 289.0,871.8 290.7,872.0 292.4,872.3 294.1,872.6 295.8,872.9 297.5,873.1 299.2,873.4 300.9,873.6 302.6,873.8 304.2,874.1 305.9,874.3 307.6,874.5 309.3,874.7 311.0,874.9 312.7,875.1 314.4,875.2 316.1,875.4 317.8,875.6 319.4,875.8 321.1,875.9 322.8,876.1 324.5,876.2 326.2,876.4 327.9,876.5 329.6,876.7 331.3,876.8 333.0,876.9 334.7,877.1 336.3,877.2 338.0,877.3 339.7,877.4 341.4,877.5 343.1,877.6 344.8,877.7 346.5,877.8 348.2,877.9 349.9,878.0 351.5,878.1 353.2,878.2 354.9,878.3 356.6,878.4 358.3,878.4 360.0,878.5 361.7,878.6 363.4,878.7 365.1,878.7 366.7,878.8 368.4,878.9 370.1,878.9 371.8,879.0 373.5,879.0 375.2,879.1 376.9,879.1 378.6,879.2 380.3,879.2 382.0,879.3 383.6,879.3 385.3,879.4 387.0,879.4 388.7,879.4 390.4,879.5 392.1,879.5 393.8,879.5 395.5,879.6 397.2,879.6 398.8,879.6 400.5,879.7 402.2,879.7 403.9,879.7 405.6,879.7 407.3,879.7 409.0,879.7 410.7,879.8 412.4,879.8 414.0,879.8 415.7,879.8 417.4,879.8 419.1,879.8 420.8,879.8 422.5,879.8 424.2,879.8 425.9,879.8 427.6,879.8 429.3,879.8 430.9,879.8 432.6,879.8 434.3,879.8 436.0,879.8 437.7,879.8 439.4,879.8 441.1,879.7 442.8,879.7 444.5,879.7 446.1,879.7 447.8,879.7 449.5,879.6 451.2,879.6 452.9,879.6 454.6,879.6 456.3,879.5 458.0,879.5 459.7,879.5 461.4,879.4 463.0,879.4 464.7,879.3 466.4,879.3 468.1,879.3 469.8,879.2 471.5,879.2 473.2,879.1 474.9,879.1 476.6,879.0 478.2,879.0 479.9,878.9 481.6,878.8 483.3,878.8 485.0,878.7 486.7,878.6 488.4,878.6 490.1,878.5 491.8,878.4 493.4,878.3 495.1,878.2 496.8,878.2 498.5,878.1 500.2,878.0 501.9,877.9 503.6,877.8 505.3,877.7 507.0,877.6 508.7,877.5 510.3,877.4 512.0,877.2 513.7,877.1 515.4,877.0 517.1,876.9 518.8,876.7 520.5,876.6 522.2,876.5 523.9,876.3 525.5,876.2 527.2,876.0 528.9,875.9 530.6,875.7 532.3,875.5 534.0,875.4 535.7,875.2 537.4,875.0 539.1,874.8 540.7,874.6 542.4,874.4 544.1,874.2 545.8,874.0 547.5,873.7 549.2,873.5 550.9,873.3 552.6,873.0 554.3,872.8 556.0,872.5 557.6,872.2 559.3,871.9 561.0,871.6 562.7,871.3 564.4,871.0 566.1,870.7 567.8,870.4 569.5,870.0 571.2,869.6 572.8,869.3 574.5,868.9 576.2,868.5 577.9,868.1 579.6,867.6 581.3,867.2 583.0,866.7 584.7,866.3 586.4,865.8 588.0,865.2 589.7,864.7 591.4,864.2 593.1,863.6 594.8,863.0 596.5,862.4 598.2,861.7 599.9,861.1 601.6,860.4 603.3,859.6 604.9,858.9 606.6,858.1 608.3,857.3 610.0,856.5 611.7,855.6 613.4,854.7 615.1,853.7 616.8,852.7 618.5,851.7 620.1,850.6 621.8,849.5 623.5,848.3 625.2,847.1 626.9,845.8 628.6,844.5 630.3,843.1 632.0,841.6 633.7,840.1 635.3,838.5 637.0,836.9 638.7,835.2 640.4,833.4 642.1,831.5 643.8,829.5 645.5,827.4 647.2,825.3 648.9,823.0 650.6,820.7 652.2,818.2 653.9,815.6 655.6,812.9 657.3,810.1 659.0,807.2 660.7,804.1 662.4,800.9 664.1,797.5 665.8,794.0 667.4,790.3 669.1,786.5 670.8,782.5 672.5,778.4 674.2,774.0 675.9,769.6 677.6,764.9 679.3,760.0 681.0,755.0 682.6,749.8 684.3,744.5 686.0,738.9 687.7,733.2 689.4,727.4 691.1,721.4 692.8,715.3 694.5,709.1 696.2,702.8 697.9,696.5 699.5,690.1 701.2,683.7 702.9,677.4 704.6,671.1 706.3,665.0 708.0,659.0 709.7,653.2 711.4,647.7 713.1,642.5 714.7,637.6 716.4,633.2 718.1,629.2 719.8,625.7 721.5,622.7 723.2,620.4 724.9,618.6 726.6,617.4 728.3,616.9 729.9,617.0 731.6,617.8 733.3,619.2 735.0,621.2 736.7,623.9 738.4,627.0 740.1,630.7 741.8,634.9 743.5,639.5 745.2,644.5 746.8,649.9 748.5,655.5 750.2,661.4 751.9,667.4 753.6,673.6 755.3,679.9 757.0,686.3 758.7,692.7 760.4,699.0 762.0,705.4 763.7,711.6 765.4,717.8 767.1,723.8 768.8,729.8 770.5,735.5 772.2,741.2 773.9,746.6 775.6,751.9 777.3,757.0 778.9,762.0 780.6,766.8 782.3,771.4 784.0,775.8 785.7,780.1 787.4,784.1 789.1,788.1 790.8,791.8 792.5,795.4 794.1,798.9 795.8,802.2 797.5,805.3 799.2,808.4 800.9,811.3 802.6,814.0 804.3,816.7 806.0,819.2 807.7,821.6 809.3,823.9 811.0,826.2 812.7,828.3 814.4,830.3 816.1,832.2 817.8,834.1 819.5,835.9 821.2,837.6 822.9,839.2 824.6,840.7 826.2,842.2 827.9,843.6 829.6,845.0 831.3,846.3 833.0,847.6 834.7,848.8 836.4,849.9 838.1,851.0 839.8,852.1 841.4,853.1 843.1,854.1 844.8,855.0 846.5,855.9 848.2,856.8 849.9,857.6 851.6,858.4 853.3,859.2 855.0,859.9 856.6,860.6 858.3,861.3 860.0,862.0 861.7,862.6 863.4,863.2 865.1,863.8 866.8,864.4 868.5,864.9 870.2,865.5 871.9,866.0 873.5,866.5 875.2,866.9 876.9,867.4 878.6,867.8 880.3,868.2 882.0,868.6 883.7,869.0 885.4,869.4 887.1,869.8 888.7,870.1 890.4,870.5 892.1,870.8 893.8,871.1 895.5,871.5 897.2,871.8 898.9,872.0 900.6,872.3 902.3,872.6 903.9,872.9 905.6,873.1 907.3,873.4 909.0,873.6 910.7,873.8 912.4,874.1 914.1,874.3 915.8,874.5 917.5,874.7 919.2,874.9 920.8,875.1 922.5,875.2 924.2,875.4 925.9,875.6 927.6,875.8 929.3,875.9 931.0,876.1 932.7,876.2 934.4,876.4 936.0,876.5 937.7,876.7 939.4,876.8 941.1,876.9 942.8,877.1 944.5,877.2 946.2,877.3 947.9,877.4 949.6,877.5 951.2,877.6 952.9,877.7 954.6,877.8 956.3,877.9 958.0,878.0 959.7,878.1 961.4,878.2 963.1,878.3 964.8,878.4 966.5,878.4 968.1,878.5 969.8,878.6 971.5,878.7 973.2,878.7 974.9,878.8 976.6,878.9 978.3,878.9 980.0,879.0 981.7,879.0 983.3,879.1 985.0,879.1 986.7,879.2 988.4,879.2 990.1,879.3 991.8,879.3 993.5,879.4 995.2,879.4 996.9,879.4 998.5,879.5 1000.2,879.5 1001.9,879.5 1003.6,879.6 1005.3,879.6 1007.0,879.6 1008.7,879.7 1010.4,879.7 1012.1,879.7 1013.8,879.7 1015.4,879.7 1017.1,879.7 1018.8,879.8 1020.5,879.8 1022.2,879.8 1023.9,879.8 1025.6,879.8 1027.3,879.8 1029.0,879.8 1030.6,879.8 1032.3,879.8 1034.0,879.8 1035.7,879.8 1037.4,879.8 1039.1,879.8 1040.8,879.8 1042.5,879.8 1044.2,879.8 1045.9,879.8 1047.5,879.8 1049.2,879.7 1050.9,879.7 1052.6,879.7 1054.3,879.7 1056.0,879.7 1057.7,879.6 1059.4,879.6 1061.1,879.6 1062.7,879.6 1064.4,879.5 1066.1,879.5 1067.8,879.5 1069.5,879.4 1071.2,879.4 1072.9,879.3 1074.6,879.3 1076.3,879.3 1077.9,879.2 1079.6,879.2 1081.3,879.1 1083.0,879.1 1084.7,879.0 1086.4,879.0 1088.1,878.9 1089.8,878.8 1091.5,878.8 1093.2,878.7 1094.8,878.6 1096.5,878.6 1098.2,878.5 1099.9,878.4 1101.6,878.3 1103.3,878.2 1105.0,878.2 1106.7,878.1 1108.4,878.0 1110.0,877.9 1111.7,877.8 1113.4,877.7 1115.1,877.6 1116.8,877.5 1118.5,877.4 1120.2,877.2 1121.9,877.1 1123.6,877.0 1125.2,876.9 1126.9,876.7 1128.6,876.6 1130.3,876.5 1132.0,876.3 1133.7,876.2 1135.4,876.0 1137.1,875.9 1138.8,875.7 1140.5,875.5 1142.1,875.4 1143.8,875.2 1145.5,875.0 1147.2,874.8 1148.9,874.6 1150.6,874.4 1152.3,874.2 1154.0,874.0 1155.7,873.7 1157.3,873.5 1159.0,873.3 1160.7,873.0 1162.4,872.8 1164.1,872.5 1165.8,872.2 1167.5,871.9 1169.2,871.6 1170.9,871.3 1172.5,871.0 1174.2,870.7 1175.9,870.4 1177.6,870.0 1179.3,869.6 1181.0,869.3 1182.7,868.9 1184.4,868.5 1186.1,868.1 1187.8,867.6 1189.4,867.2 1191.1,866.7 1192.8,866.3 1194.5,865.8 1196.2,865.2 1197.9,864.7 1199.6,864.2 1201.3,863.6 1203.0,863.0 1204.6,862.4 1206.3,861.7 1208.0,861.1 1209.7,860.4 1211.4,859.6 1213.1,858.9 1214.8,858.1 1216.5,857.3 1218.2,856.5 1219.8,855.6 1221.5,854.7 1223.2,853.7 1224.9,852.7 1226.6,851.7 1228.3,850.6 1230.0,849.5 1231.7,848.3 1233.4,847.1 1235.1,845.8 1236.7,844.5 1238.4,843.1 1240.1,841.6 1241.8,840.1 1243.5,838.5 1245.2,836.9 1246.9,835.2 1248.6,833.4 1250.3,831.5 1251.9,829.5 1253.6,827.4 1255.3,825.3 1257.0,823.0 1258.7,820.7 1260.4,818.2 1262.1,815.6 1263.8,812.9 1265.5,810.1 1267.1,807.2 1268.8,804.1 1270.5,800.9 1272.2,797.5 1273.9,794.0 1275.6,790.3 1277.3,786.5 1279.0,782.5 1280.7,778.4 1282.4,774.0 1284.0,769.6 1285.7,764.9 1287.4,760.0 1289.1,755.0 1290.8,749.8 1292.5,744.5 1294.2,738.9 1295.9,733.2 1297.6,727.4 1299.2,721.4 1300.9,715.3 1302.6,709.1 1304.3,702.8 1306.0,696.5 1307.7,690.1 1309.4,683.7 1311.1,677.4 1312.8,671.1 1314.4,665.0 1316.1,659.0 1317.8,653.2 1319.5,647.7 1321.2,642.5 1322.9,637.6 1324.6,633.2 1326.3,629.2 1328.0,625.7 1329.7,622.7 1331.3,620.4 1333.0,618.6 1334.7,617.4" fill="none" stroke="#22227e" stroke-width="1.35" stroke-linejoin="round" />
<polyline points="121.8,624.5 123.5,625.3 125.2,626.6 126.9,628.6 128.6,631.2 130.2,634.3 131.9,638.0 133.6,642.1 135.3,646.7 137.0,651.6 138.7,656.8 140.4,662.4 142.1,668.1 143.8,674.1 145.5,680.2 147.1,686.3 148.8,692.6 150.5,698.8 152.2,705.1 153.9,711.3 155.6,717.4 157.3,723.4 159.0,729.3 160.7,735.1 162.3,740.7 164.0,746.2 165.7,751.5 167.4,756.7 169.1,761.7 170.8,766.5 172.5,771.2 174.2,775.6 175.9,779.9 177.5,784.1 179.2,788.0 180.9,791.8 182.6,795.5 184.3,799.0 186.0,802.3 187.7,805.5 189.4,808.6 191.1,811.5 192.8,814.3 194.4,817.0 196.1,819.5 197.8,822.0 199.5,824.3 201.2,826.6 202.9,828.7 204.6,830.8 206.3,832.7 208.0,834.6 209.6,836.4 211.3,838.1 213.0,839.7 214.7,841.3 216.4,842.8 218.1,844.2 219.8,845.6 221.5,846.9 223.2,848.2 224.8,849.4 226.5,850.5 228.2,851.6 229.9,852.7 231.6,853.7 233.3,854.7 235.0,855.7 236.7,856.6 238.4,857.4 240.1,858.3 241.7,859.1 243.4,859.8 245.1,860.6 246.8,861.3 248.5,862.0 250.2,862.6 251.9,863.2 253.6,863.9 255.3,864.4 256.9,865.0 258.6,865.6 260.3,866.1 262.0,866.6 263.7,867.1 265.4,867.5 267.1,868.0 268.8,868.4 270.5,868.8 272.1,869.3 273.8,869.6 275.5,870.0 277.2,870.4 278.9,870.7 280.6,871.1 282.3,871.4 284.0,871.7 285.7,872.0 287.4,872.3 289.0,872.6 290.7,872.9 292.4,873.2 294.1,873.4 295.8,873.7 297.5,873.9 299.2,874.2 300.9,874.4 302.6,874.6 304.2,874.8 305.9,875.0 307.6,875.2 309.3,875.4 311.0,875.6 312.7,875.8 314.4,876.0 316.1,876.2 317.8,876.3 319.4,876.5 321.1,876.6 322.8,876.8 324.5,876.9 326.2,877.1 327.9,877.2 329.6,877.3 331.3,877.5 333.0,877.6 334.7,877.7 336.3,877.8 338.0,877.9 339.7,878.1 341.4,878.2 343.1,878.3 344.8,878.4 346.5,878.5 348.2,878.5 349.9,878.6 351.5,878.7 353.2,878.8 354.9,878.9 356.6,879.0 358.3,879.0 360.0,879.1 361.7,879.2 363.4,879.3 365.1,879.3 366.7,879.4 368.4,879.4 370.1,879.5 371.8,879.6 373.5,879.6 375.2,879.7 376.9,879.7 378.6,879.8 380.3,879.8 382.0,879.8 383.6,879.9 385.3,879.9 387.0,880.0 388.7,880.0 390.4,880.0 392.1,880.1 393.8,880.1 395.5,880.1 397.2,880.2 398.8,880.2 400.5,880.2 402.2,880.2 403.9,880.2 405.6,880.3 407.3,880.3 409.0,880.3 410.7,880.3 412.4,880.3 414.0,880.3 415.7,880.3 417.4,880.4 419.1,880.4 420.8,880.4 422.5,880.4 424.2,880.4 425.9,880.4 427.6,880.4 429.3,880.4 430.9,880.4 432.6,880.4 434.3,880.3 436.0,880.3 437.7,880.3 439.4,880.3 441.1,880.3 442.8,880.3 444.5,880.3 446.1,880.2 447.8,880.2 449.5,880.2 451.2,880.2 452.9,880.1 454.6,880.1 456.3,880.1 458.0,880.1 459.7,880.0 461.4,880.0 463.0,880.0 464.7,879.9 466.4,879.9 468.1,879.8 469.8,879.8 471.5,879.7 473.2,879.7 474.9,879.6 476.6,879.6 478.2,879.5 479.9,879.5 481.6,879.4 483.3,879.4 485.0,879.3 486.7,879.2 488.4,879.2 490.1,879.1 491.8,879.0 493.4,878.9 495.1,878.9 496.8,878.8 498.5,878.7 500.2,878.6 501.9,878.5 503.6,878.4 505.3,878.3 507.0,878.2 508.7,878.1 510.3,878.0 512.0,877.9 513.7,877.8 515.4,877.7 517.1,877.5 518.8,877.4 520.5,877.3 522.2,877.2 523.9,877.0 525.5,876.9 527.2,876.7 528.9,876.6 530.6,876.4 532.3,876.3 534.0,876.1 535.7,875.9 537.4,875.7 539.1,875.6 540.7,875.4 542.4,875.2 544.1,875.0 545.8,874.8 547.5,874.5 549.2,874.3 550.9,874.1 552.6,873.8 554.3,873.6 556.0,873.3 557.6,873.1 559.3,872.8 561.0,872.5 562.7,872.2 564.4,871.9 566.1,871.6 567.8,871.3 569.5,871.0 571.2,870.6 572.8,870.2 574.5,869.9 576.2,869.5 577.9,869.1 579.6,868.7 581.3,868.3 583.0,867.8 584.7,867.4 586.4,866.9 588.0,866.4 589.7,865.9 591.4,865.3 593.1,864.8 594.8,864.2 596.5,863.6 598.2,863.0 599.9,862.4 601.6,861.7 603.3,861.0 604.9,860.3 606.6,859.5 608.3,858.7 610.0,857.9 611.7,857.1 613.4,856.2 615.1,855.3 616.8,854.3 618.5,853.3 620.1,852.3 621.8,851.2 623.5,850.1 625.2,848.9 626.9,847.7 628.6,846.4 630.3,845.0 632.0,843.7 633.7,842.2 635.3,840.7 637.0,839.1 638.7,837.4 640.4,835.7 642.1,833.8 643.8,831.9 645.5,829.9 647.2,827.9 648.9,825.7 650.6,823.4 652.2,821.0 653.9,818.5 655.6,815.9 657.3,813.2 659.0,810.3 660.7,807.4 662.4,804.3 664.1,801.0 665.8,797.6 667.4,794.0 669.1,790.3 670.8,786.5 672.5,782.4 674.2,778.2 675.9,773.9 677.6,769.3 679.3,764.6 681.0,759.7 682.6,754.7 684.3,749.4 686.0,744.0 687.7,738.5 689.4,732.8 691.1,727.0 692.8,721.0 694.5,714.9 696.2,708.8 697.9,702.6 699.5,696.3 701.2,690.1 702.9,683.9 704.6,677.7 706.3,671.7 708.0,665.8 709.7,660.1 711.4,654.7 713.1,649.6 714.7,644.8 716.4,640.4 718.1,636.5 719.8,633.0 721.5,630.1 723.2,627.8 724.9,626.0 726.6,624.9 728.3,624.4 729.9,624.5 731.6,625.3 733.3,626.6 735.0,628.6 736.7,631.2 738.4,634.3 740.1,638.0 741.8,642.1 743.5,646.7 745.2,651.6 746.8,656.8 748.5,662.4 750.2,668.1 751.9,674.1 753.6,680.2 755.3,686.3 757.0,692.6 758.7,698.8 760.4,705.1 762.0,711.3 763.7,717.4 765.4,723.4 767.1,729.3 768.8,735.1 770.5,740.7 772.2,746.2 773.9,751.5 775.6,756.7 777.3,761.7 778.9,766.5 780.6,771.2 782.3,775.6 784.0,779.9 785.7,784.1 787.4,788.0 789.1,791.8 790.8,795.5 792.5,799.0 794.1,802.3 795.8,805.5 797.5,808.6 799.2,811.5 800.9,814.3 802.6,817.0 804.3,819.5 806.0,822.0 807.7,824.3 809.3,826.6 811.0,828.7 812.7,830.8 814.4,832.7 816.1,834.6 817.8,836.4 819.5,838.1 821.2,839.7 822.9,841.3 824.6,842.8 826.2,844.2 827.9,845.6 829.6,846.9 831.3,848.2 833.0,849.4 834.7,850.5 836.4,851.6 838.1,852.7 839.8,853.7 841.4,854.7 843.1,855.7 844.8,856.6 846.5,857.4 848.2,858.3 849.9,859.1 851.6,859.8 853.3,860.6 855.0,861.3 856.6,862.0 858.3,862.6 860.0,863.2 861.7,863.9 863.4,864.4 865.1,865.0 866.8,865.6 868.5,866.1 870.2,866.6 871.9,867.1 873.5,867.5 875.2,868.0 876.9,868.4 878.6,868.8 880.3,869.3 882.0,869.6 883.7,870.0 885.4,870.4 887.1,870.7 888.7,871.1 890.4,871.4 892.1,871.7 893.8,872.0 895.5,872.3 897.2,872.6 898.9,872.9 900.6,873.2 902.3,873.4 903.9,873.7 905.6,873.9 907.3,874.2 909.0,874.4 910.7,874.6 912.4,874.8 914.1,875.0 915.8,875.2 917.5,875.4 919.2,875.6 920.8,875.8 922.5,876.0 924.2,876.2 925.9,876.3 927.6,876.5 929.3,876.6 931.0,876.8 932.7,876.9 934.4,877.1 936.0,877.2 937.7,877.3 939.4,877.5 941.1,877.6 942.8,877.7 944.5,877.8 946.2,877.9 947.9,878.1 949.6,878.2 951.2,878.3 952.9,878.4 954.6,878.5 956.3,878.5 958.0,878.6 959.7,878.7 961.4,878.8 963.1,878.9 964.8,879.0 966.5,879.0 968.1,879.1 969.8,879.2 971.5,879.3 973.2,879.3 974.9,879.4 976.6,879.4 978.3,879.5 980.0,879.6 981.7,879.6 983.3,879.7 985.0,879.7 986.7,879.8 988.4,879.8 990.1,879.8 991.8,879.9 993.5,879.9 995.2,880.0 996.9,880.0 998.5,880.0 1000.2,880.1 1001.9,880.1 1003.6,880.1 1005.3,880.2 1007.0,880.2 1008.7,880.2 1010.4,880.2 1012.1,880.2 1013.8,880.3 1015.4,880.3 1017.1,880.3 1018.8,880.3 1020.5,880.3 1022.2,880.3 1023.9,880.3 1025.6,880.4 1027.3,880.4 1029.0,880.4 1030.6,880.4 1032.3,880.4 1034.0,880.4 1035.7,880.4 1037.4,880.4 1039.1,880.4 1040.8,880.4 1042.5,880.3 1044.2,880.3 1045.9,880.3 1047.5,880.3 1049.2,880.3 1050.9,880.3 1052.6,880.3 1054.3,880.2 1056.0,880.2 1057.7,880.2 1059.4,880.2 1061.1,880.1 1062.7,880.1 1064.4,880.1 1066.1,880.1 1067.8,880.0 1069.5,880.0 1071.2,880.0 1072.9,879.9 1074.6,879.9 1076.3,879.8 1077.9,879.8 1079.6,879.7 1081.3,879.7 1083.0,879.6 1084.7,879.6 1086.4,879.5 1088.1,879.5 1089.8,879.4 1091.5,879.4 1093.2,879.3 1094.8,879.2 1096.5,879.2 1098.2,879.1 1099.9,879.0 1101.6,878.9 1103.3,878.9 1105.0,878.8 1106.7,878.7 1108.4,878.6 1110.0,878.5 1111.7,878.4 1113.4,878.3 1115.1,878.2 1116.8,878.1 1118.5,878.0 1120.2,877.9 1121.9,877.8 1123.6,877.7 1125.2,877.5 1126.9,877.4 1128.6,877.3 1130.3,877.2 1132.0,877.0 1133.7,876.9 1135.4,876.7 1137.1,876.6 1138.8,876.4 1140.5,876.3 1142.1,876.1 1143.8,875.9 1145.5,875.7 1147.2,875.6 1148.9,875.4 1150.6,875.2 1152.3,875.0 1154.0,874.8 1155.7,874.5 1157.3,874.3 1159.0,874.1 1160.7,873.8 1162.4,873.6 1164.1,873.3 1165.8,873.1 1167.5,872.8 1169.2,872.5 1170.9,872.2 1172.5,871.9 1174.2,871.6 1175.9,871.3 1177.6,871.0 1179.3,870.6 1181.0,870.2 1182.7,869.9 1184.4,869.5 1186.1,869.1 1187.8,868.7 1189.4,868.3 1191.1,867.8 1192.8,867.4 1194.5,866.9 1196.2,866.4 1197.9,865.9 1199.6,865.3 1201.3,864.8 1203.0,864.2 1204.6,863.6 1206.3,863.0 1208.0,862.4 1209.7,861.7 1211.4,861.0 1213.1,860.3 1214.8,859.5 1216.5,858.7 1218.2,857.9 1219.8,857.1 1221.5,856.2 1223.2,855.3 1224.9,854.3 1226.6,853.3 1228.3,852.3 1230.0,851.2 1231.7,850.1 1233.4,848.9 1235.1,847.7 1236.7,846.4 1238.4,845.0 1240.1,843.7 1241.8,842.2 1243.5,840.7 1245.2,839.1 1246.9,837.4 1248.6,835.7 1250.3,833.8 1251.9,831.9 1253.6,829.9 1255.3,827.9 1257.0,825.7 1258.7,823.4 1260.4,821.0 1262.1,818.5 1263.8,815.9 1265.5,813.2 1267.1,810.3 1268.8,807.4 1270.5,804.3 1272.2,801.0 1273.9,797.6 1275.6,794.0 1277.3,790.3 1279.0,786.5 1280.7,782.4 1282.4,778.2 1284.0,773.9 1285.7,769.3 1287.4,764.6 1289.1,759.7 1290.8,754.7 1292.5,749.4 1294.2,744.0 1295.9,738.5 1297.6,732.8 1299.2,727.0 1300.9,721.0 1302.6,714.9 1304.3,708.8 1306.0,702.6 1307.7,696.3 1309.4,690.1 1311.1,683.9 1312.8,677.7 1314.4,671.7 1316.1,665.8 1317.8,660.1 1319.5,654.7 1321.2,649.6 1322.9,644.8 1324.6,640.4 1326.3,636.5 1328.0,633.0 1329.7,630.1 1331.3,627.8 1333.0,626.0 1334.7,624.9" fill="none" stroke="#8e2232" stroke-width="1.35" stroke-linejoin="round" />
<polyline points="121.8,608.1 123.5,608.9 125.2,610.4 126.9,612.6 128.6,615.4 130.2,618.8 131.9,622.8 133.6,627.3 135.3,632.2 137.0,637.5 138.7,643.2 140.4,649.2 142.1,655.4 143.8,661.9 145.5,668.4 147.1,675.1 148.8,681.8 150.5,688.5 152.2,695.2 153.9,701.9 155.6,708.4 157.3,714.9 159.0,721.2 160.7,727.4 162.3,733.4 164.0,739.2 165.7,744.9 167.4,750.4 169.1,755.7 170.8,760.8 172.5,765.7 174.2,770.5 175.9,775.0 177.5,779.4 179.2,783.6 180.9,787.6 182.6,791.4 184.3,795.1 186.0,798.6 187.7,802.0 189.4,805.2 191.1,808.3 192.8,811.2 194.4,814.0 196.1,816.7 197.8,819.3 199.5,821.8 201.2,824.1 202.9,826.3 204.6,828.5 206.3,830.5 208.0,832.5 209.6,834.3 211.3,836.1 213.0,837.8 214.7,839.5 216.4,841.0 218.1,842.5 219.8,844.0 221.5,845.3 223.2,846.6 224.8,847.9 226.5,849.1 228.2,850.3 229.9,851.4 231.6,852.4 233.3,853.5 235.0,854.4 236.7,855.4 238.4,856.3 240.1,857.1 241.7,858.0 243.4,858.8 245.1,859.5 246.8,860.3 248.5,861.0 250.2,861.7 251.9,862.3 253.6,862.9 255.3,863.6 256.9,864.1 258.6,864.7 260.3,865.2 262.0,865.8 263.7,866.3 265.4,866.8 267.1,867.2 268.8,867.7 270.5,868.1 272.1,868.5 273.8,868.9 275.5,869.3 277.2,869.7 278.9,870.1 280.6,870.4 282.3,870.8 284.0,871.1 285.7,871.4 287.4,871.7 289.0,872.0 290.7,872.3 292.4,872.6 294.1,872.9 295.8,873.1 297.5,873.4 299.2,873.6 300.9,873.9 302.6,874.1 304.2,874.3 305.9,874.5 307.6,874.7 309.3,874.9 311.0,875.1 312.7,875.3 314.4,875.5 316.1,875.7 317.8,875.8 319.4,876.0 321.1,876.2 322.8,876.3 324.5,876.5 326.2,876.6 327.9,876.8 329.6,876.9 331.3,877.0 333.0,877.2 334.7,877.3 336.3,877.4 338.0,877.5 339.7,877.6 341.4,877.7 343.1,877.8 344.8,877.9 346.5,878.0 348.2,878.1 349.9,878.2 351.5,878.3 353.2,878.4 354.9,878.5 356.6,878.6 358.3,878.7 360.0,878.7 361.7,878.8 363.4,878.9 365.1,878.9 366.7,879.0 368.4,879.1 370.1,879.1 371.8,879.2 373.5,879.2 375.2,879.3 376.9,879.3 378.6,879.4 380.3,879.4 382.0,879.5 383.6,879.5 385.3,879.6 387.0,879.6 388.7,879.6 390.4,879.7 392.1,879.7 393.8,879.7 395.5,879.8 397.2,879.8 398.8,879.8 400.5,879.9 402.2,879.9 403.9,879.9 405.6,879.9 407.3,879.9 409.0,879.9 410.7,880.0 412.4,880.0 414.0,880.0 415.7,880.0 417.4,880.0 419.1,880.0 420.8,880.0 422.5,880.0 424.2,880.0 425.9,880.0 427.6,880.0 429.3,880.0 430.9,880.0 432.6,880.0 434.3,880.0 436.0,880.0 437.7,880.0 439.4,880.0 441.1,879.9 442.8,879.9 444.5,879.9 446.1,879.9 447.8,879.9 449.5,879.8 451.2,879.8 452.9,879.8 454.6,879.8 456.3,879.7 458.0,879.7 459.7,879.7 461.4,879.6 463.0,879.6 464.7,879.6 466.4,879.5 468.1,879.5 469.8,879.4 471.5,879.4 473.2,879.3 474.9,879.3 476.6,879.2 478.2,879.2 479.9,879.1 481.6,879.0 483.3,879.0 485.0,878.9 486.7,878.8 488.4,878.8 490.1,878.7 491.8,878.6 493.4,878.5 495.1,878.5 496.8,878.4 498.5,878.3 500.2,878.2 501.9,878.1 503.6,878.0 505.3,877.9 507.0,877.8 508.7,877.7 510.3,877.6 512.0,877.5 513.7,877.4 515.4,877.2 517.1,877.1 518.8,877.0 520.5,876.8 522.2,876.7 523.9,876.6 525.5,876.4 527.2,876.3 528.9,876.1 530.6,875.9 532.3,875.8 534.0,875.6 535.7,875.4 537.4,875.2 539.1,875.0 540.7,874.9 542.4,874.6 544.1,874.4 545.8,874.2 547.5,874.0 549.2,873.8 550.9,873.5 552.6,873.3 554.3,873.0 556.0,872.8 557.6,872.5 559.3,872.2 561.0,871.9 562.7,871.6 564.4,871.3 566.1,871.0 567.8,870.6 569.5,870.3 571.2,869.9 572.8,869.6 574.5,869.2 576.2,868.8 577.9,868.4 579.6,867.9 581.3,867.5 583.0,867.0 584.7,866.6 586.4,866.1 588.0,865.6 589.7,865.0 591.4,864.5 593.1,863.9 594.8,863.3 596.5,862.7 598.2,862.1 599.9,861.4 601.6,860.7 603.3,860.0 604.9,859.2 606.6,858.4 608.3,857.6 610.0,856.8 611.7,855.9 613.4,855.0 615.1,854.0 616.8,853.1 618.5,852.0 620.1,850.9 621.8,849.8 623.5,848.6 625.2,847.4 626.9,846.1 628.6,844.8 630.3,843.4 632.0,841.9 633.7,840.4 635.3,838.8 637.0,837.2 638.7,835.4 640.4,833.6 642.1,831.7 643.8,829.7 645.5,827.6 647.2,825.5 648.9,823.2 650.6,820.8 652.2,818.3 653.9,815.7 655.6,812.9 657.3,810.1 659.0,807.1 660.7,803.9 662.4,800.7 664.1,797.2 665.8,793.7 667.4,789.9 669.1,786.0 670.8,781.9 672.5,777.6 674.2,773.2 675.9,768.6 677.6,763.8 679.3,758.8 681.0,753.6 682.6,748.2 684.3,742.6 686.0,736.9 687.7,731.0 689.4,724.9 691.1,718.7 692.8,712.3 694.5,705.8 696.2,699.2 697.9,692.5 699.5,685.8 701.2,679.1 702.9,672.4 704.6,665.8 706.3,659.3 708.0,652.9 709.7,646.8 711.4,640.9 713.1,635.3 714.7,630.2 716.4,625.4 718.1,621.1 719.8,617.4 721.5,614.2 723.2,611.7 724.9,609.8 726.6,608.5 728.3,608.0 729.9,608.1 731.6,608.9 733.3,610.4 735.0,612.6 736.7,615.4 738.4,618.8 740.1,622.8 741.8,627.3 743.5,632.2 745.2,637.5 746.8,643.2 748.5,649.2 750.2,655.4 751.9,661.9 753.6,668.4 755.3,675.1 757.0,681.8 758.7,688.5 760.4,695.2 762.0,701.9 763.7,708.4 765.4,714.9 767.1,721.2 768.8,727.4 770.5,733.4 772.2,739.2 773.9,744.9 775.6,750.4 777.3,755.7 778.9,760.8 780.6,765.7 782.3,770.5 784.0,775.0 785.7,779.4 787.4,783.6 789.1,787.6 790.8,791.4 792.5,795.1 794.1,798.6 795.8,802.0 797.5,805.2 799.2,808.3 800.9,811.2 802.6,814.0 804.3,816.7 806.0,819.3 807.7,821.8 809.3,824.1 811.0,826.3 812.7,828.5 814.4,830.5 816.1,832.5 817.8,834.3 819.5,836.1 821.2,837.8 822.9,839.5 824.6,841.0 826.2,842.5 827.9,844.0 829.6,845.3 831.3,846.6 833.0,847.9 834.7,849.1 836.4,850.3 838.1,851.4 839.8,852.4 841.4,853.5 843.1,854.4 844.8,855.4 846.5,856.3 848.2,857.1 849.9,858.0 851.6,858.8 853.3,859.5 855.0,860.3 856.6,861.0 858.3,861.7 860.0,862.3 861.7,862.9 863.4,863.6 865.1,864.1 866.8,864.7 868.5,865.2 870.2,865.8 871.9,866.3 873.5,866.8 875.2,867.2 876.9,867.7 878.6,868.1 880.3,868.5 882.0,868.9 883.7,869.3 885.4,869.7 887.1,870.1 888.7,870.4 890.4,870.8 892.1,871.1 893.8,871.4 895.5,871.7 897.2,872.0 898.9,872.3 900.6,872.6 902.3,872.9 903.9,873.1 905.6,873.4 907.3,873.6 909.0,873.9 910.7,874.1 912.4,874.3 914.1,874.5 915.8,874.7 917.5,874.9 919.2,875.1 920.8,875.3 922.5,875.5 924.2,875.7 925.9,875.8 927.6,876.0 929.3,876.2 931.0,876.3 932.7,876.5 934.4,876.6 936.0,876.8 937.7,876.9 939.4,877.0 941.1,877.2 942.8,877.3 944.5,877.4 946.2,877.5 947.9,877.6 949.6,877.7 951.2,877.8 952.9,877.9 954.6,878.0 956.3,878.1 958.0,878.2 959.7,878.3 961.4,878.4 963.1,878.5 964.8,878.6 966.5,878.7 968.1,878.7 969.8,878.8 971.5,878.9 973.2,878.9 974.9,879.0 976.6,879.1 978.3,879.1 980.0,879.2 981.7,879.2 983.3,879.3 985.0,879.3 986.7,879.4 988.4,879.4 990.1,879.5 991.8,879.5 993.5,879.6 995.2,879.6 996.9,879.6 998.5,879.7 1000.2,879.7 1001.9,879.7 1003.6,879.8 1005.3,879.8 1007.0,879.8 1008.7,879.9 1010.4,879.9 1012.1,879.9 1013.8,879.9 1015.4,879.9 1017.1,879.9 1018.8,880.0 1020.5,880.0 1022.2,880.0 1023.9,880.0 1025.6,880.0 1027.3,880.0 1029.0,880.0 1030.6,880.0 1032.3,880.0 1034.0,880.0 1035.7,880.0 1037.4,880.0 1039.1,880.0 1040.8,880.0 1042.5,880.0 1044.2,880.0 1045.9,880.0 1047.5,880.0 1049.2,879.9 1050.9,879.9 1052.6,879.9 1054.3,879.9 1056.0,879.9 1057.7,879.8 1059.4,879.8 1061.1,879.8 1062.7,879.8 1064.4,879.7 1066.1,879.7 1067.8,879.7 1069.5,879.6 1071.2,879.6 1072.9,879.6 1074.6,879.5 1076.3,879.5 1077.9,879.4 1079.6,879.4 1081.3,879.3 1083.0,879.3 1084.7,879.2 1086.4,879.2 1088.1,879.1 1089.8,879.0 1091.5,879.0 1093.2,878.9 1094.8,878.8 1096.5,878.8 1098.2,878.7 1099.9,878.6 1101.6,878.5 1103.3,878.5 1105.0,878.4 1106.7,878.3 1108.4,878.2 1110.0,878.1 1111.7,878.0 1113.4,877.9 1115.1,877.8 1116.8,877.7 1118.5,877.6 1120.2,877.5 1121.9,877.4 1123.6,877.2 1125.2,877.1 1126.9,877.0 1128.6,876.8 1130.3,876.7 1132.0,876.6 1133.7,876.4 1135.4,876.3 1137.1,876.1 1138.8,875.9 1140.5,875.8 1142.1,875.6 1143.8,875.4 1145.5,875.2 1147.2,875.0 1148.9,874.9 1150.6,874.6 1152.3,874.4 1154.0,874.2 1155.7,874.0 1157.3,873.8 1159.0,873.5 1160.7,873.3 1162.4,873.0 1164.1,872.8 1165.8,872.5 1167.5,872.2 1169.2,871.9 1170.9,871.6 1172.5,871.3 1174.2,871.0 1175.9,870.6 1177.6,870.3 1179.3,869.9 1181.0,869.6 1182.7,869.2 1184.4,868.8 1186.1,868.4 1187.8,867.9 1189.4,867.5 1191.1,867.0 1192.8,866.6 1194.5,866.1 1196.2,865.6 1197.9,865.0 1199.6,864.5 1201.3,863.9 1203.0,863.3 1204.6,862.7 1206.3,862.1 1208.0,861.4 1209.7,860.7 1211.4,860.0 1213.1,859.2 1214.8,858.4 1216.5,857.6 1218.2,856.8 1219.8,855.9 1221.5,855.0 1223.2,854.0 1224.9,853.1 1226.6,852.0 1228.3,850.9 1230.0,849.8 1231.7,848.6 1233.4,847.4 1235.1,846.1 1236.7,844.8 1238.4,843.4 1240.1,841.9 1241.8,840.4 1243.5,838.8 1245.2,837.2 1246.9,835.4 1248.6,833.6 1250.3,831.7 1251.9,829.7 1253.6,827.6 1255.3,825.5 1257.0,823.2 1258.7,820.8 1260.4,818.3 1262.1,815.7 1263.8,812.9 1265.5,810.1 1267.1,807.1 1268.8,803.9 1270.5,800.7 1272.2,797.2 1273.9,793.7 1275.6,789.9 1277.3,786.0 1279.0,781.9 1280.7,777.6 1282.4,773.2 1284.0,768.6 1285.7,763.8 1287.4,758.8 1289.1,753.6 1290.8,748.2 1292.5,742.6 1294.2,736.9 1295.9,731.0 1297.6,724.9 1299.2,718.7 1300.9,712.3 1302.6,705.8 1304.3,699.2 1306.0,692.5 1307.7,685.8 1309.4,679.1 1311.1,672.4 1312.8,665.8 1314.4,659.3 1316.1,652.9 1317.8,646.8 1319.5,640.9 1321.2,635.3 1322.9,630.2 1324.6,625.4 1326.3,621.1 1328.0,617.4 1329.7,614.2 1331.3,611.7 1333.0,609.8 1334.7,608.5" fill="none" stroke="#5e1c70" stroke-width="1.35" stroke-linejoin="round" />
<line x1="425.88" y1="563.00" x2="425.88" y2="892.00" stroke="#e01010" stroke-width="2.2"/>
<rect x="122.30" y="495.30" width="399.80" height="68.00" fill="#fff" stroke="#333" stroke-width="1.6"/>
<text transform="translate(228.8,514.3) scale(1,1.09)" font-size="17" text-anchor="end" fill="#262626" color="#262626" letter-spacing="0.35">Crank Angle</text>
<text transform="translate(228.8,534.5) scale(1,1.09)" font-size="17" text-anchor="end" fill="#262626" color="#262626">deg</text>
<text transform="translate(228.8,554.7) scale(1,1.09)" font-size="17" text-anchor="end" fill="#262626" color="#262626">-180,000</text>
<text transform="translate(299.2,514.3) scale(1,1.09)" font-size="17" text-anchor="end" fill="#24248a" color="#24248a">PCYL1</text>
<text transform="translate(299.2,534.5) scale(1,1.09)" font-size="17" text-anchor="end" fill="#24248a" color="#24248a">bar</text>
<text transform="translate(299.2,554.7) scale(1,1.09)" font-size="17" text-anchor="end" fill="#24248a" color="#24248a">2,618</text>
<text transform="translate(369.2,514.3) scale(1,1.09)" font-size="17" text-anchor="end" fill="#2f812f" color="#2f812f">PCYL2</text>
<text transform="translate(369.2,534.5) scale(1,1.09)" font-size="17" text-anchor="end" fill="#2f812f" color="#2f812f">bar</text>
<text transform="translate(369.2,554.7) scale(1,1.09)" font-size="17" text-anchor="end" fill="#2f812f" color="#2f812f">2,670</text>
<text transform="translate(439.2,514.3) scale(1,1.09)" font-size="17" text-anchor="end" fill="#8c2632" color="#8c2632">PCYL3</text>
<text transform="translate(439.2,534.5) scale(1,1.09)" font-size="17" text-anchor="end" fill="#8c2632" color="#8c2632">bar</text>
<text transform="translate(439.2,554.7) scale(1,1.09)" font-size="17" text-anchor="end" fill="#8c2632" color="#8c2632">2,396</text>
<text transform="translate(509.2,514.3) scale(1,1.09)" font-size="17" text-anchor="end" fill="#88308f" color="#88308f">PCYL4</text>
<text transform="translate(509.2,534.5) scale(1,1.09)" font-size="17" text-anchor="end" fill="#88308f" color="#88308f">bar</text>
<text transform="translate(509.2,554.7) scale(1,1.09)" font-size="17" text-anchor="end" fill="#88308f" color="#88308f">2,521</text></g></svg></body></html>
